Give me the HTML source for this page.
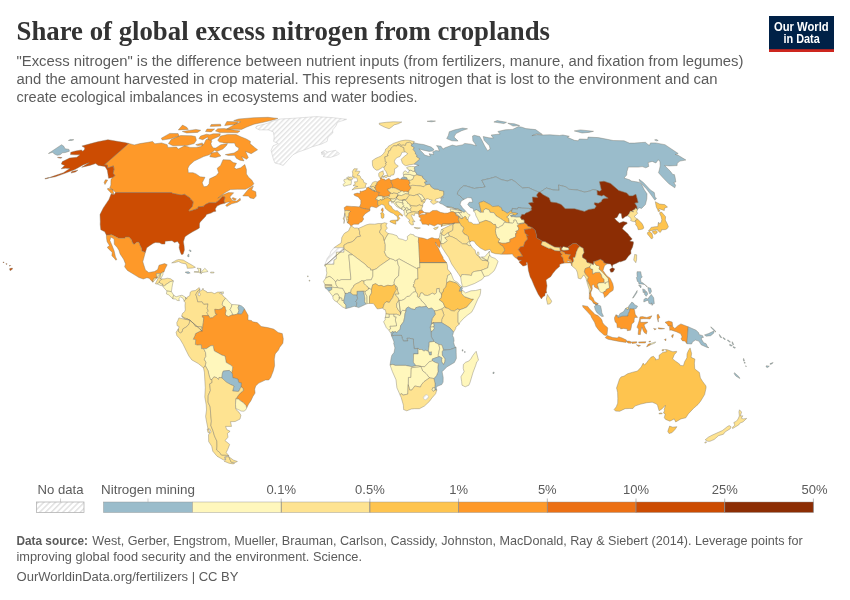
<!DOCTYPE html>
<html lang="en"><head><meta charset="utf-8"><title>Share of global excess nitrogen from croplands</title>
<style>
html,body{margin:0;padding:0;background:#fff;}
body{width:850px;height:600px;overflow:hidden;font-family:"Liberation Sans", sans-serif;}
svg{display:block;}
.title{font-family:"Liberation Serif", serif;font-weight:bold;font-size:28px;fill:#333;}
.sub{font-family:"Liberation Sans", sans-serif;font-size:14px;fill:#5b5b5b;}
.lg{font-family:"Liberation Sans", sans-serif;font-size:13px;fill:#5b5b5b;}
.ft{font-family:"Liberation Sans", sans-serif;font-size:13px;fill:#5b5b5b;}
.logo{font-family:"Liberation Sans", sans-serif;font-weight:bold;font-size:12.3px;fill:#fff;}
</style></head><body>
<svg width="850" height="600" viewBox="0 0 850 600">
<defs>
<pattern id="hatch" patternUnits="userSpaceOnUse" width="3.6" height="3.6" patternTransform="rotate(-45)"><rect width="3.6" height="3.6" fill="#fff"/><rect width="3.6" height="1.4" fill="#e3e3e3"/></pattern>
<pattern id="hatch2" patternUnits="userSpaceOnUse" width="4.1" height="4.1" patternTransform="rotate(-45)"><rect width="4.1" height="4.1" fill="#fff"/><rect width="4.1" height="1.5" fill="#e2e2e2"/></pattern>
<clipPath id="mapclip"><rect x="0" y="110" width="850" height="365"/></clipPath>
</defs>
<rect width="850" height="600" fill="#fff"/>
<text x="16.5" y="40" class="title" textLength="533.5" lengthAdjust="spacingAndGlyphs">Share of global excess nitrogen from croplands</text>
<text x="16.5" y="66.1" class="sub" textLength="727" lengthAdjust="spacingAndGlyphs">"Excess nitrogen" is the difference between nutrient inputs (from fertilizers, manure, and fixation from legumes)</text>
<text x="16.5" y="84.3" class="sub" textLength="701" lengthAdjust="spacingAndGlyphs">and the amount harvested in crop material. This represents nitrogen that is lost to the environment and can</text>
<text x="16.5" y="101.9" class="sub" textLength="401" lengthAdjust="spacingAndGlyphs">create ecological imbalances in ecosystems and water bodies.</text>
<g id="logo"><rect x="769" y="16" width="65" height="36" fill="#002147"/><rect x="769" y="49.2" width="65" height="2.8" fill="#ce261e"/>
<text x="801.3" y="30.6" text-anchor="middle" class="logo" textLength="54.7" lengthAdjust="spacingAndGlyphs">Our World</text>
<text x="801.6" y="42.6" text-anchor="middle" class="logo" textLength="36.3" lengthAdjust="spacingAndGlyphs">in Data</text></g>
<g id="map" clip-path="url(#mapclip)">
<path id="CAN" d="M112.9,177.6L115.0,175.3L113.0,173.6L114.0,169.3L113.4,165.9L107.6,168.1L107.5,165.2L104.5,164.7L128.7,143.4L134.3,144.9L140.0,143.6L148.2,142.3L152.6,141.4L154.8,143.8L161.6,142.9L167.2,144.7L167.9,147.4L176.6,147.1L178.2,149.1L184.7,145.8L190.0,147.4L196.0,147.4L201.0,146.5L204.2,143.6L206.0,139.7L210.6,138.2L211.8,141.4L210.9,143.6L211.6,145.8L213.3,148.0L215.9,148.0L220.9,144.7L227.5,143.6L226.3,145.8L222.8,149.1L216.9,151.4L214.6,150.3L209.3,154.8L203.7,156.5L201.6,157.6L194.1,161.1L189.3,165.4L187.9,168.3L188.3,172.7L193.0,172.7L196.1,173.9L200.1,176.8L205.0,177.3L202.2,182.8L203.8,186.8L207.0,186.3L209.1,183.8L209.6,178.8L216.0,175.8L218.6,172.7L217.2,168.3L220.6,165.4L223.0,159.7L230.1,160.0L233.2,162.6L236.5,163.3L234.2,167.8L236.4,169.0L240.7,167.8L244.8,164.5L246.4,169.5L246.4,173.9L248.8,177.6L251.7,180.0L253.9,183.8L251.5,186.3L245.5,189.3L237.5,189.3L230.5,189.5L225.3,192.6L221.2,195.6L217.8,198.2L222.4,195.1L228.4,192.6L233.7,192.8L231.5,195.1L229.8,197.1L230.9,198.2L231.9,200.2L233.8,200.7L236.8,201.0L240.1,198.2L240.5,200.2L237.4,202.3L231.8,203.8L226.8,206.6L225.7,205.3L230.4,201.7L227.1,202.3L224.7,203.3L224.8,202.5L223.8,201.0L225.0,197.4L224.4,196.9L222.5,196.6L218.9,200.5L215.6,202.8L209.0,202.8L204.9,204.8L203.3,206.4L198.1,206.9L198.0,208.4L189.6,211.3L188.7,210.2L192.3,206.4L193.2,202.0L191.9,200.2L190.3,198.9L190.0,197.9L184.4,194.3L181.6,195.1L177.1,194.3L172.4,193.3L171.6,192.6L115.6,192.6L113.2,190.0L109.7,188.0L110.9,185.0L110.9,182.5L111.0,179.3L112.9,177.6ZM107.7,188.3L112.8,189.5L113.8,194.1L111.3,193.6L110.0,191.8L107.6,189.5ZM105.4,179.8L107.7,180.0L105.0,184.5L104.1,182.5ZM242.8,195.9L248.7,188.8L253.4,186.0L251.7,190.0L255.8,191.8L256.2,196.1L253.9,198.7L250.0,197.9L248.5,196.1ZM257.6,149.8L254.6,147.4L250.0,143.6L250.5,141.4L246.4,139.0L240.2,136.5L236.1,134.6L227.6,134.4L220.6,136.1L217.7,140.3L219.5,142.1L222.5,142.5L223.8,142.9L230.3,143.1L234.5,143.1L235.8,146.2L238.9,148.0L238.4,150.3L234.1,153.0L225.3,154.6L228.2,155.5L234.5,155.3L236.4,158.3L239.9,160.2L244.0,160.9L241.7,156.7L246.6,159.3L248.3,157.6L245.5,151.4L251.2,153.7ZM277.9,118.4L268.0,117.3L253.9,117.7L238.6,119.0L233.7,120.6L240.7,121.8L235.1,124.2L226.7,129.0L241.5,129.4L246.8,127.0L254.0,124.2L263.1,122.3L273.9,119.8ZM217.8,128.8L224.1,128.6L240.1,130.9L237.7,132.8L219.9,132.6L215.4,130.9ZM171.4,139.3L180.6,135.5L191.5,135.7L195.4,136.5L196.4,140.3L194.2,143.6L186.5,145.6L172.9,145.8L168.4,143.6ZM161.3,138.2L169.8,133.4L178.1,133.6L179.1,136.1L170.3,138.8L162.3,140.1ZM182.3,131.5L195.9,129.4L200.7,130.3L197.6,132.4L186.7,133.0ZM226.9,121.5L237.9,121.8L236.5,124.2L224.7,125.5ZM211.4,153.0L217.4,151.9L220.9,156.0L215.4,157.6L209.8,156.7ZM207.0,129.0L214.6,129.0L211.2,131.9L205.5,131.5ZM195.7,144.7L202.3,142.9L202.9,145.1L197.5,145.6ZM232.7,197.6L236.4,198.9L235.0,200.2L232.3,198.9ZM182.5,125.1L186.7,127.2L188.3,129.4L178.3,129.9ZM211.2,124.5L220.5,124.2L221.0,126.1L210.2,126.4Z" fill="#fe9929" stroke="#7a7466" stroke-width="0.4" stroke-linejoin="round" fill-rule="evenodd"/>
<path id="CAN2" d="M200.6,136.1L206.5,134.2L209.8,134.8L213.2,133.8L220.3,133.8L219.8,136.1L214.7,138.2L210.3,140.3L208.0,139.3L207.8,136.9L202.7,139.7L198.9,138.6Z" fill="#fe9929" stroke="#7a7466" stroke-width="0.4" stroke-linejoin="round" fill-rule="evenodd"/>
<path id="USA" d="M115.6,192.6L171.6,192.6L172.4,193.3L177.1,194.3L181.6,195.1L184.4,194.3L190.0,197.9L190.3,198.9L191.9,200.2L193.2,202.0L192.3,206.4L188.7,210.2L189.6,211.3L198.0,208.4L198.1,206.9L203.3,206.4L204.9,204.8L209.0,202.8L215.6,202.8L218.9,200.5L222.5,196.6L224.4,196.9L225.0,197.4L223.8,201.0L224.8,202.5L224.7,203.3L220.7,204.3L217.1,206.1L215.2,208.9L215.9,211.3L213.4,211.8L211.1,213.1L206.5,214.4L205.7,216.2L202.6,219.6L200.1,222.2L199.5,223.7L199.4,227.9L196.9,229.5L193.1,231.5L188.2,234.4L185.0,236.8L183.4,241.7L184.1,245.9L184.4,250.1L183.1,254.2L181.4,254.5L180.3,251.9L179.1,247.7L179.5,244.3L177.5,241.5L174.4,242.5L172.1,240.7L168.8,240.9L165.2,241.2L164.9,244.1L161.8,244.1L159.5,242.8L155.5,242.5L153.4,243.3L150.0,245.4L146.8,247.7L145.3,252.4L141.8,251.1L141.5,248.2L140.1,245.6L138.8,242.2L136.6,242.2L134.5,244.3L132.7,243.5L131.6,240.1L129.0,237.0L125.3,237.0L124.9,238.3L118.7,238.3L111.8,234.7L106.4,235.2L104.8,231.8L100.8,229.7L100.2,224.5L100.3,221.4L100.0,214.6L103.3,207.9L109.0,199.4L111.1,194.1L114.2,194.6ZM128.7,143.4L104.5,164.7L107.5,165.2L107.6,168.1L113.4,165.9L114.0,169.3L113.0,173.6L115.0,175.3L112.9,177.6L108.6,178.3L108.0,174.6L107.3,170.2L105.0,166.4L98.2,165.4L95.7,163.5L89.9,165.4L87.6,165.9L81.7,167.3L89.4,162.6L83.1,164.9L74.9,169.5L64.2,173.6L55.2,176.8L48.1,178.0L55.8,175.3L63.4,172.7L69.8,168.5L65.4,168.3L61.1,168.8L64.7,165.4L61.3,164.0L62.4,161.6L67.1,159.3L69.5,158.1L76.9,157.2L79.9,154.8L75.5,154.8L70.5,154.6L70.8,152.3L75.4,151.0L81.3,150.0L82.9,151.2L84.8,149.1L84.4,147.6L81.9,146.0L90.9,143.6L97.6,141.8L107.9,139.7L112.6,140.5L118.5,141.6L124.8,142.5ZM45.0,178.5L48.4,177.6L48.2,178.3L44.9,179.0ZM71.9,171.4L77.9,170.2L75.5,171.9L71.0,173.1ZM57.7,157.2L62.1,157.6L60.3,158.3L57.6,157.6ZM9.7,268.6L12.3,268.1L12.5,269.1L10.1,270.7L9.7,269.6ZM9.1,265.5L10.7,265.5L10.0,266.2ZM5.9,263.6L7.2,263.9L6.2,264.4ZM2.9,262.1L4.1,262.1L3.6,262.9Z" fill="#cc4c02" stroke="#7a7466" stroke-width="0.4" stroke-linejoin="round" fill-rule="evenodd"/>
<path id="GRL" d="M256.6,126.1L267.9,123.2L271.0,121.5L280.1,119.0L294.6,118.2L316.1,116.6L333.2,117.7L346.6,119.3L337.5,122.3L335.9,126.1L332.7,129.9L332.8,133.0L328.0,137.1L327.1,141.4L321.6,144.0L312.5,146.7L306.7,149.1L298.1,152.1L292.9,154.8L287.5,160.7L283.2,165.4L279.1,164.0L274.9,163.0L273.5,159.5L272.4,155.5L271.1,150.3L273.1,145.8L278.3,143.6L273.6,141.4L274.2,137.1L273.3,131.9L268.5,129.9L259.3,129.9L255.6,128.0Z" fill="url(#hatch)" stroke="#b9b9b9" stroke-width="0.4" stroke-linejoin="round" fill-rule="evenodd"/>
<path id="MEX" d="M106.4,235.2L111.8,234.7L118.7,238.3L124.9,238.3L125.3,237.0L129.0,237.0L131.6,240.1L132.7,243.5L134.5,244.3L136.6,242.2L138.8,242.2L140.1,245.6L141.5,248.2L141.8,251.1L145.3,252.4L142.8,261.8L145.4,269.9L148.7,272.5L154.5,271.5L157.7,269.6L159.0,265.2L164.6,263.6L167.2,264.7L165.0,269.1L163.9,272.2L162.9,271.7L161.5,273.3L160.7,273.6L156.5,273.6L156.3,275.0L157.3,278.0L154.4,278.1L153.0,280.1L152.8,282.2L149.1,278.2L146.9,277.7L143.3,279.0L138.9,277.5L135.8,275.6L131.6,273.0L127.4,270.4L124.6,266.8L125.5,263.9L123.6,259.2L120.1,254.0L118.9,250.3L117.2,247.5L114.3,244.3L114.1,239.1L110.8,237.0L109.9,240.4L112.1,245.6L114.1,250.8L115.5,256.9L116.8,259.5L115.8,260.2L114.7,258.7L111.9,255.8L112.2,252.2L108.6,249.0L107.3,247.2L109.5,245.6L107.1,241.7L106.4,237.5Z" fill="#fe9929" stroke="#7a7466" stroke-width="0.4" stroke-linejoin="round" fill-rule="evenodd"/>
<path id="GTM" d="M152.8,282.2L153.0,280.1L154.4,278.1L157.3,278.0L156.3,275.0L156.5,273.6L160.7,273.6L155.3,283.7L157.4,284.1L159.1,282.4L159.7,280.9L162.2,279.0L160.7,278.5L160.0,278.5L160.7,273.6Z" fill="#fee391" stroke="#7a7466" stroke-width="0.4" stroke-linejoin="round" fill-rule="evenodd"/>
<path id="BLZ" d="M162.9,271.7L161.5,273.3L160.7,273.6L160.0,278.5L160.7,278.5L161.5,277.5L163.0,274.3Z" fill="#fff7bc" stroke="#7a7466" stroke-width="0.4" stroke-linejoin="round" fill-rule="evenodd"/>
<path id="SLV" d="M157.4,284.1L160.9,285.6L162.5,285.6L162.5,285.0L162.9,284.0L161.1,283.7L160.0,282.7L159.1,282.4Z" fill="#fff7bc" stroke="#7a7466" stroke-width="0.4" stroke-linejoin="round" fill-rule="evenodd"/>
<path id="HND" d="M162.2,279.0L159.7,280.9L159.1,282.4L160.0,282.7L161.1,283.7L162.9,284.0L162.5,285.0L163.4,286.1L164.3,286.1L165.0,285.3L167.2,283.7L170.4,281.6L173.4,280.9L170.7,278.8L167.3,278.2L165.0,278.8Z" fill="#fee391" stroke="#7a7466" stroke-width="0.4" stroke-linejoin="round" fill-rule="evenodd"/>
<path id="NIC" d="M173.4,280.9L170.4,281.6L167.2,283.7L165.0,285.3L164.3,286.1L163.4,286.1L162.7,286.3L165.2,289.2L166.9,291.0L169.1,291.3L171.4,291.6L172.0,287.4L172.7,283.5Z" fill="#fff7bc" stroke="#7a7466" stroke-width="0.4" stroke-linejoin="round" fill-rule="evenodd"/>
<path id="CRI" d="M171.4,291.6L169.1,291.3L166.9,291.0L166.4,293.9L168.7,294.9L171.3,297.3L172.8,298.9L173.2,296.8L173.7,295.2Z" fill="#fff7bc" stroke="#7a7466" stroke-width="0.4" stroke-linejoin="round" fill-rule="evenodd"/>
<path id="PAN" d="M173.7,295.2L173.2,296.8L172.8,298.9L175.6,299.1L177.1,300.4L179.4,300.7L178.8,298.6L180.7,296.8L183.2,298.6L184.2,301.2L185.7,299.1L185.5,297.3L182.0,295.2L179.6,295.7L176.1,296.8Z" fill="#fff7bc" stroke="#7a7466" stroke-width="0.4" stroke-linejoin="round" fill-rule="evenodd"/>
<path id="CUB" d="M171.7,262.9L176.4,260.2L178.7,259.5L183.2,260.0L188.4,263.1L192.2,265.2L195.4,267.3L192.3,268.1L187.3,268.3L186.9,266.0L186.0,263.9L181.6,263.1L178.5,261.5L174.9,262.6Z" fill="#fee391" stroke="#7a7466" stroke-width="0.4" stroke-linejoin="round" fill-rule="evenodd"/>
<path id="HTI" d="M200.4,273.0L200.7,268.6L197.1,268.1L198.3,269.6L199.0,271.5L194.4,271.5L194.1,272.2L198.6,272.5Z" fill="#fff7bc" stroke="#7a7466" stroke-width="0.4" stroke-linejoin="round" fill-rule="evenodd"/>
<path id="DOM" d="M200.7,268.6L200.4,273.0L204.8,268.3L208.1,271.5L205.5,272.0L202.0,272.5L201.0,274.1Z" fill="#fff7bc" stroke="#7a7466" stroke-width="0.4" stroke-linejoin="round" fill-rule="evenodd"/>
<path id="JAM" d="M185.3,272.0L188.5,271.7L190.2,273.0L187.9,273.6L185.5,272.5Z" fill="#9abccb" stroke="#7a7466" stroke-width="0.4" stroke-linejoin="round" fill-rule="evenodd"/>
<path id="PRI" d="M210.7,272.0L214.1,272.2L213.8,273.0L210.6,273.0Z" fill="#fff7bc" stroke="#7a7466" stroke-width="0.4" stroke-linejoin="round" fill-rule="evenodd"/>
<path id="BHS" d="M188.0,254.5L188.9,254.2L189.0,256.9L187.5,256.3ZM189.6,249.8L191.2,250.8L190.6,251.9L189.3,250.6Z" fill="#9abccb" stroke="#7a7466" stroke-width="0.4" stroke-linejoin="round" fill-rule="evenodd"/>
<path id="TTO" d="M221.6,292.1L223.4,291.8L223.4,293.6L221.5,293.6Z" fill="#fff7bc" stroke="#7a7466" stroke-width="0.4" stroke-linejoin="round" fill-rule="evenodd"/>
<path id="COL" d="M184.2,301.2L185.7,299.1L185.5,297.3L186.8,299.1L186.7,297.6L189.8,295.5L190.2,292.3L191.8,291.0L195.3,290.5L199.2,287.6L200.0,289.2L197.8,291.0L195.8,294.4L197.0,298.1L197.7,301.7L202.1,301.7L203.6,304.1L208.0,303.8L207.2,308.3L208.3,311.1L206.9,312.7L209.1,316.9L208.7,315.6L202.4,315.6L202.4,317.1L203.8,317.4L203.3,322.6L202.2,331.0L200.5,329.9L202.0,327.0L195.3,326.3L193.4,323.4L190.0,320.3L187.4,319.0L184.9,319.0L181.7,316.3L182.4,313.5L184.8,311.4L185.3,309.6L185.0,305.6L185.3,302.8L184.2,301.2Z" fill="#fee391" stroke="#7a7466" stroke-width="0.4" stroke-linejoin="round" fill-rule="evenodd"/>
<path id="VEN" d="M209.1,316.9L206.9,312.7L208.3,311.1L207.2,308.3L208.0,303.8L203.6,304.1L202.1,301.7L197.7,301.7L197.0,298.1L195.8,294.4L197.8,291.0L200.0,289.2L199.2,291.6L202.5,289.7L203.0,288.2L203.4,290.0L206.7,291.6L206.9,292.6L211.5,292.3L214.4,293.6L217.7,292.1L221.4,292.1L219.5,293.4L222.2,294.4L223.5,296.5L225.7,298.1L223.8,300.4L222.6,302.5L222.3,304.6L223.6,306.4L221.7,308.8L218.7,309.6L214.8,309.3L215.4,313.5L217.2,314.3L215.8,315.0L212.6,317.7L210.5,318.0L209.1,316.9ZM199.1,292.1L200.3,294.2L199.6,296.0L198.1,295.2L198.4,293.1Z" fill="#fee391" stroke="#7a7466" stroke-width="0.4" stroke-linejoin="round" fill-rule="evenodd"/>
<path id="GUY" d="M223.6,306.4L222.3,304.6L222.6,302.5L223.8,300.4L225.7,298.1L228.8,301.7L231.9,304.6L231.4,307.0L230.0,309.6L231.3,311.4L233.1,315.0L231.9,315.0L228.5,316.6L225.7,315.3L225.3,313.7L226.0,310.6L225.2,308.3L225.0,306.7L223.6,306.4Z" fill="#fff7bc" stroke="#7a7466" stroke-width="0.4" stroke-linejoin="round" fill-rule="evenodd"/>
<path id="SUR" d="M233.1,315.0L231.3,311.4L230.0,309.6L231.4,307.0L231.9,304.6L234.7,304.6L239.0,305.0L238.1,307.7L238.9,310.6L237.7,314.0L234.5,314.8L233.1,315.0Z" fill="#fff7bc" stroke="#7a7466" stroke-width="0.4" stroke-linejoin="round" fill-rule="evenodd"/>
<path id="GUF" d="M237.7,314.0L238.9,310.6L238.1,307.7L239.0,305.0L241.6,305.9L244.0,308.0L244.5,309.0L242.3,313.2L241.4,314.3L237.7,314.0Z" fill="#9abccb" stroke="#7a7466" stroke-width="0.4" stroke-linejoin="round" fill-rule="evenodd"/>
<path id="BRA" d="M237.7,314.0L241.4,314.3L242.3,313.2L244.5,309.0L248.1,315.3L248.0,320.0L251.5,320.5L252.7,321.8L257.3,322.6L261.2,326.5L267.7,327.6L273.5,329.1L274.6,329.7L278.1,332.5L282.3,333.6L283.3,338.8L282.9,343.2L279.6,347.4L278.5,350.0L275.2,353.9L274.3,359.1L274.6,365.7L273.3,370.9L271.8,374.8L270.8,377.4L268.7,380.0L265.4,380.0L262.1,381.6L258.8,383.1L255.7,386.0L254.7,389.2L255.1,393.1L252.9,396.5L250.8,400.9L248.6,404.0L246.7,407.9L246.0,405.6L243.4,402.7L240.2,400.6L238.4,399.1L235.9,398.8L238.9,394.6L240.8,392.5L243.3,390.7L243.2,388.4L241.0,386.8L241.3,382.9L238.8,382.6L237.8,379.0L232.7,377.7L232.4,374.0L231.6,372.7L232.4,369.6L232.7,367.0L230.7,365.1L226.2,362.5L225.0,356.0L222.0,355.2L218.0,352.9L214.4,351.1L213.6,348.4L213.2,345.6L210.7,345.8L206.3,348.7L203.7,348.6L201.5,348.7L201.2,344.8L197.4,345.1L195.3,344.5L195.7,339.6L193.2,339.3L194.9,335.7L195.5,333.6L200.3,331.0L202.2,331.0L203.3,322.6L203.8,317.4L202.4,317.1L202.4,315.6L208.7,315.6L209.1,316.9L210.5,318.0L212.6,317.7L215.8,315.0L217.2,314.3L215.4,313.5L214.8,309.3L218.7,309.6L221.7,308.8L223.6,306.4L225.0,306.7L225.2,308.3L226.0,310.6L225.3,313.7L225.7,315.3L228.5,316.6L231.9,315.0L233.1,315.0L234.5,314.8L237.7,314.0Z" fill="#fe9929" stroke="#7a7466" stroke-width="0.4" stroke-linejoin="round" fill-rule="evenodd"/>
<path id="ECU" d="M181.7,316.3L184.9,319.0L187.4,319.0L190.0,320.3L178.9,317.9L177.7,321.0L176.8,322.6L177.1,325.7L179.0,326.5L179.2,326.8L178.3,328.9L178.4,331.5L180.3,333.0L182.1,332.0L182.9,328.9L186.6,326.8L189.1,323.9L190.0,320.3Z" fill="#fee391" stroke="#7a7466" stroke-width="0.4" stroke-linejoin="round" fill-rule="evenodd"/>
<path id="PER" d="M190.0,320.3L189.1,323.9L186.6,326.8L182.9,328.9L182.1,332.0L180.3,333.0L178.4,331.5L178.3,328.9L176.1,332.3L176.9,335.7L179.8,338.8L183.1,344.3L186.5,351.3L188.9,356.0L191.8,359.9L198.3,363.6L201.2,365.9L203.5,367.9L205.3,365.7L206.1,362.5L204.2,359.1L205.9,356.5L205.6,352.6L203.7,348.6L201.5,348.7L201.2,344.8L197.4,345.1L195.3,344.5L195.7,339.6L193.2,339.3L194.9,335.7L195.5,333.6L200.3,331.0L202.2,331.0L190.0,320.3L193.4,323.4L195.3,326.3L202.0,327.0L200.5,329.9L202.2,331.0Z" fill="#fee391" stroke="#7a7466" stroke-width="0.4" stroke-linejoin="round" fill-rule="evenodd"/>
<path id="BOL" d="M203.7,348.6L205.6,352.6L205.9,356.5L204.2,359.1L206.1,362.5L205.3,365.7L208.1,370.9L208.9,374.8L210.4,379.5L211.9,379.5L213.9,376.9L216.7,377.7L218.5,379.5L219.1,377.4L221.9,377.9L222.4,373.5L223.3,371.1L229.3,370.4L231.6,372.7L232.4,369.6L232.7,367.0L230.7,365.1L226.2,362.5L225.0,356.0L222.0,355.2L218.0,352.9L214.4,351.1L213.6,348.4L213.2,345.6L210.7,345.8L206.3,348.7L203.7,348.6Z" fill="#fff7bc" stroke="#7a7466" stroke-width="0.4" stroke-linejoin="round" fill-rule="evenodd"/>
<path id="PRY" d="M231.6,372.7L229.3,370.4L223.3,371.1L222.4,373.5L221.9,377.9L226.2,382.1L230.9,384.7L234.0,386.0L232.6,391.0L237.8,391.5L238.9,391.2L241.0,386.8L241.3,382.9L238.8,382.6L237.8,379.0L232.7,377.7L232.4,374.0L231.6,372.7Z" fill="#9abccb" stroke="#7a7466" stroke-width="0.4" stroke-linejoin="round" fill-rule="evenodd"/>
<path id="CHL" d="M205.3,365.7L203.5,367.9L204.4,372.2L204.9,381.3L205.3,387.8L204.8,397.0L206.2,404.8L206.5,410.0L205.6,416.5L206.8,423.0L208.0,429.0L209.7,429.0L211.1,432.1L208.5,434.7L208.7,441.6L211.7,446.2L212.8,451.2L217.0,456.2L223.6,460.0L225.3,459.5L224.4,457.0L228.8,455.7L226.4,455.2L221.4,455.0L219.7,452.5L216.7,450.0L217.0,446.2L216.9,441.1L214.5,436.0L213.0,430.8L210.9,425.6L211.4,421.2L210.7,413.9L210.2,406.9L208.1,402.2L208.2,395.7L210.4,390.5L209.7,383.9L212.1,382.6L211.9,379.5L210.4,379.5L208.9,374.8L208.1,370.9L205.3,365.7ZM228.7,456.5L225.5,457.2L225.7,460.0L224.1,461.2L228.9,463.2L233.1,463.9L234.7,463.2L231.2,462.2ZM207.2,429.0L208.7,429.3L209.8,433.1L208.0,432.6Z" fill="#fee391" stroke="#7a7466" stroke-width="0.4" stroke-linejoin="round" fill-rule="evenodd"/>
<path id="ARG" d="M221.9,377.9L219.1,377.4L218.5,379.5L216.7,377.7L213.9,376.9L211.9,379.5L212.1,382.6L209.7,383.9L210.4,390.5L208.2,395.7L208.1,402.2L210.2,406.9L210.7,413.9L211.4,421.2L210.9,425.6L213.0,430.8L214.5,436.0L216.9,441.1L217.0,446.2L216.7,450.0L219.7,452.5L221.4,455.0L226.4,455.2L228.8,455.7L226.2,452.5L227.7,449.5L229.7,444.4L225.0,440.6L228.0,437.2L227.4,433.4L230.1,431.3L226.7,429.5L225.6,426.4L231.5,426.4L230.5,421.7L235.2,421.5L240.0,419.1L240.9,415.2L238.9,412.1L236.0,409.5L235.8,408.5L235.5,404.3L235.9,398.8L238.9,394.6L240.8,392.5L243.3,390.7L243.2,388.4L241.0,386.8L238.9,391.2L237.8,391.5L232.6,391.0L234.0,386.0L230.9,384.7L226.2,382.1L221.9,377.9ZM228.7,456.5L231.2,462.2L235.3,462.4L237.4,461.5L233.3,460.0L229.9,457.5Z" fill="#fee391" stroke="#7a7466" stroke-width="0.4" stroke-linejoin="round" fill-rule="evenodd"/>
<path id="URY" d="M235.9,398.8L235.5,404.3L235.8,408.5L239.2,410.0L241.1,411.1L244.0,411.2L246.1,409.5L246.7,407.9L246.0,405.6L243.4,402.7L240.2,400.6L238.4,399.1L235.9,398.8Z" fill="#fff7bc" stroke="#7a7466" stroke-width="0.4" stroke-linejoin="round" fill-rule="evenodd"/>
<path id="ISL" d="M321.0,152.5L324.5,150.5L327.7,152.1L332.2,151.0L335.7,150.3L337.9,152.5L339.5,153.7L336.8,155.3L330.4,157.4L326.8,157.2L323.0,156.5L324.5,155.1L321.2,153.9L324.9,153.0Z" fill="url(#hatch)" stroke="#b9b9b9" stroke-width="0.4" stroke-linejoin="round" fill-rule="evenodd"/>
<path id="IRL" d="M351.1,179.8L351.4,181.8L351.1,184.5L348.5,185.0L343.9,186.3L343.0,184.8L345.1,182.3L343.8,181.0L344.1,179.5L347.1,178.8L346.7,177.6L349.1,176.7L349.5,177.3L348.6,178.3L347.6,178.8L348.8,179.8L351.1,179.8Z" fill="#fff7bc" stroke="#7a7466" stroke-width="0.4" stroke-linejoin="round" fill-rule="evenodd"/>
<path id="GBR" d="M349.5,177.3L348.6,178.3L347.6,178.8L348.8,179.8L351.1,179.8L352.5,179.3L352.7,178.3L351.4,176.9ZM351.9,189.9L354.9,189.0L356.3,188.8L359.5,188.5L363.9,188.1L366.1,187.1L365.1,186.3L366.6,183.5L363.9,182.5L363.5,181.0L363.1,179.8L361.0,178.5L360.2,176.3L359.3,175.3L357.0,175.1L358.4,174.1L359.9,171.4L356.7,171.0L355.4,171.4L357.5,168.8L354.0,168.8L352.4,171.4L352.8,173.9L352.4,176.8L354.1,176.3L353.5,178.0L356.6,177.8L357.5,180.0L357.2,181.8L354.5,181.8L354.9,183.3L355.2,184.3L353.0,185.5L356.4,186.3L357.8,186.5L355.0,187.0Z" fill="#fee391" stroke="#7a7466" stroke-width="0.4" stroke-linejoin="round" fill-rule="evenodd"/>
<path id="FRA" d="M359.5,206.9L361.8,208.2L364.8,208.7L366.4,209.2L370.0,209.5L369.8,207.7L371.6,206.6L373.7,207.0L376.3,207.8L378.9,206.0L377.8,204.8L377.6,202.8L377.8,200.5L377.2,199.2L375.8,199.7L375.8,198.9L377.5,196.6L378.7,196.1L378.7,194.3L379.8,192.6L376.1,191.4L374.9,191.2L373.1,190.5L371.7,190.0L371.5,189.3L369.7,188.3L368.4,187.3L366.5,187.8L366.5,189.5L363.7,190.8L361.1,191.5L360.1,190.9L360.1,193.5L357.2,193.1L353.8,194.1L354.6,195.6L358.2,196.9L359.2,198.2L360.8,200.2L360.8,203.8ZM382.9,207.9L383.3,210.5L382.7,212.0L381.4,210.7L381.5,208.9Z" fill="#fe9929" stroke="#7a7466" stroke-width="0.4" stroke-linejoin="round" fill-rule="evenodd"/>
<path id="ESP" d="M370.0,209.5L366.4,209.2L364.8,208.7L361.8,208.2L359.5,206.9L355.4,206.6L351.2,206.4L346.6,206.0L344.1,207.7L344.8,210.7L346.1,210.5L349.4,210.7L350.2,211.5L348.7,213.1L348.7,215.1L348.4,216.4L347.3,216.7L348.4,218.3L347.7,219.8L348.3,220.3L347.4,222.9L349.5,224.0L350.3,225.5L351.2,226.1L353.8,224.2L358.6,224.2L359.9,222.4L361.8,221.9L363.7,219.0L362.7,217.0L365.0,213.9L367.9,212.0L370.0,210.7Z" fill="#fe9929" stroke="#7a7466" stroke-width="0.4" stroke-linejoin="round" fill-rule="evenodd"/>
<path id="PRT" d="M347.4,222.9L348.3,220.3L347.7,219.8L348.4,218.3L347.3,216.7L348.4,216.4L348.7,215.1L348.7,213.1L350.2,211.5L349.4,210.7L346.1,210.5L344.8,210.7L343.9,223.5L344.4,221.1L344.5,219.8L343.0,219.0L344.1,216.7L344.9,213.3Z" fill="#fee391" stroke="#7a7466" stroke-width="0.4" stroke-linejoin="round" fill-rule="evenodd"/>
<path id="BEL" d="M368.4,187.3L369.7,188.3L371.5,189.3L371.7,190.0L373.1,190.5L374.9,191.2L369.9,186.6L371.8,186.6L373.2,186.4L374.8,187.1L374.6,188.0L375.2,188.1L375.9,189.3L375.5,189.7L374.8,190.5L374.9,191.2Z" fill="#fee391" stroke="#7a7466" stroke-width="0.4" stroke-linejoin="round" fill-rule="evenodd"/>
<path id="LUX" d="M374.9,191.2L374.8,190.5L375.5,189.7L376.3,190.5L376.1,191.4L374.9,191.2Z" fill="#fee391" stroke="#7a7466" stroke-width="0.4" stroke-linejoin="round" fill-rule="evenodd"/>
<path id="NLD" d="M375.2,188.1L374.6,188.0L374.8,187.1L373.2,186.4L371.8,186.6L369.9,186.6L371.2,185.0L372.6,182.6L373.8,181.9L375.4,181.4L377.4,181.9L377.1,183.5L376.5,183.8L377.1,184.5L375.3,185.4L375.6,186.5L375.2,187.5L375.2,188.1Z" fill="#fee391" stroke="#7a7466" stroke-width="0.4" stroke-linejoin="round" fill-rule="evenodd"/>
<path id="DEU" d="M375.2,188.1L375.2,187.5L375.6,186.5L375.3,185.4L377.1,184.5L376.5,183.8L377.1,183.5L377.4,181.9L378.9,180.8L380.0,180.3L380.6,179.8L380.0,177.8L381.5,178.0L382.6,179.0L384.6,179.0L384.5,180.2L386.8,179.7L387.5,178.9L389.2,178.4L390.1,179.8L390.9,180.3L391.4,181.8L391.0,182.9L392.1,183.6L392.4,184.9L393.0,187.5L392.7,187.9L391.7,187.5L389.0,189.0L387.5,189.3L388.4,190.8L391.1,193.1L391.2,193.2L389.2,194.8L389.7,196.4L388.1,196.1L385.7,196.6L384.1,196.9L382.8,196.4L380.8,195.9L378.7,196.1L378.7,194.3L379.8,192.6L376.1,191.4L376.3,190.5L375.5,189.7L375.9,189.3L375.2,188.1Z" fill="#fe9929" stroke="#7a7466" stroke-width="0.4" stroke-linejoin="round" fill-rule="evenodd"/>
<path id="CHE" d="M378.7,196.1L380.8,195.9L382.8,196.4L382.7,197.5L384.7,198.0L384.0,199.6L382.3,198.9L381.8,200.6L380.5,199.1L379.4,200.5L377.8,200.5L377.2,199.2L375.8,199.7L375.8,198.9L377.5,196.6L378.7,196.1Z" fill="#fff7bc" stroke="#7a7466" stroke-width="0.4" stroke-linejoin="round" fill-rule="evenodd"/>
<path id="AUT" d="M382.8,196.4L384.1,196.9L385.7,196.6L388.1,196.1L389.7,196.4L389.2,194.8L391.2,193.2L393.0,193.6L393.5,192.6L395.6,193.2L397.5,193.6L398.1,195.1L398.0,195.9L396.9,196.6L396.2,198.0L395.3,198.4L393.2,199.2L391.3,198.9L388.7,198.4L388.2,197.5L385.8,198.2L384.7,198.0L382.7,197.5L382.8,196.4Z" fill="#fee391" stroke="#7a7466" stroke-width="0.4" stroke-linejoin="round" fill-rule="evenodd"/>
<path id="DNK" d="M380.0,177.8L381.5,178.0L381.9,176.3L382.8,175.1L384.0,174.1L383.1,172.2L383.2,170.8L379.6,172.4L378.7,173.6L378.8,176.2ZM384.3,175.8L387.3,175.1L387.5,176.6L386.4,177.8L384.6,177.1ZM382.1,176.3L383.8,176.1L384.1,177.3L382.5,177.3Z" fill="#fee391" stroke="#7a7466" stroke-width="0.4" stroke-linejoin="round" fill-rule="evenodd"/>
<path id="ITA" d="M377.8,200.5L377.6,202.8L377.8,204.8L378.9,206.0L381.8,204.3L384.5,205.6L385.3,208.2L386.6,209.5L389.0,211.3L390.7,212.4L393.6,213.6L395.1,215.1L396.7,215.7L397.7,218.3L396.9,220.9L397.8,221.0L398.6,219.8L399.9,218.3L398.4,216.4L399.7,214.4L402.3,216.2L402.6,215.1L401.2,213.9L397.4,210.7L395.3,210.7L392.6,208.7L391.4,206.4L389.0,204.8L388.7,202.3L388.8,201.6L390.3,201.1L391.6,201.2L391.2,200.2L390.8,199.4L391.3,198.9L388.7,198.4L388.2,197.5L385.8,198.2L384.7,198.0L384.0,199.6L382.3,198.9L381.8,200.6L380.5,199.1L379.4,200.5L377.8,200.5ZM389.9,221.1L391.8,220.3L396.7,220.1L395.8,222.2L395.9,224.2L394.1,223.7L390.2,221.9ZM380.6,213.1L382.7,212.3L384.1,214.4L383.8,217.7L382.3,218.5L381.2,217.7L381.1,214.9Z" fill="#fec44f" stroke="#7a7466" stroke-width="0.4" stroke-linejoin="round" fill-rule="evenodd"/>
<path id="POL" d="M392.7,187.9L393.0,187.5L392.4,184.9L392.1,183.6L391.0,182.9L391.4,181.8L390.9,180.3L394.7,179.3L398.0,178.0L399.7,179.2L401.2,178.9L407.4,179.2L408.9,180.2L410.2,183.3L408.9,184.3L410.0,186.3L411.2,188.0L410.2,189.0L408.7,191.3L408.7,192.3L405.5,191.5L403.7,192.1L402.4,191.0L401.1,191.3L399.1,190.0L397.0,189.0L395.8,188.4L393.7,187.8L392.7,187.9Z" fill="#fe9929" stroke="#7a7466" stroke-width="0.4" stroke-linejoin="round" fill-rule="evenodd"/>
<path id="RUK" d="M407.4,179.2L401.2,178.9L401.8,177.7L403.8,176.8L406.8,177.6L407.4,179.2Z" fill="#9abccb" stroke="#7a7466" stroke-width="0.4" stroke-linejoin="round" fill-rule="evenodd"/>
<path id="LTU" d="M407.4,179.2L406.8,177.6L403.8,176.8L403.5,175.0L405.1,174.1L409.9,174.4L414.2,175.8L413.4,177.8L412.9,179.3L410.7,180.3L408.9,180.2L407.4,179.2Z" fill="#fff7bc" stroke="#7a7466" stroke-width="0.4" stroke-linejoin="round" fill-rule="evenodd"/>
<path id="LVA" d="M414.2,175.8L409.9,174.4L405.1,174.1L403.5,175.0L403.1,173.1L404.0,171.4L405.8,170.8L407.2,172.4L408.7,172.7L409.0,170.6L410.7,170.1L413.2,171.3L414.8,171.3L415.8,172.2L417.1,174.7L414.2,175.8Z" fill="#fff7bc" stroke="#7a7466" stroke-width="0.4" stroke-linejoin="round" fill-rule="evenodd"/>
<path id="EST" d="M414.8,171.3L413.2,171.3L410.7,170.1L409.0,170.6L408.9,169.4L407.1,168.8L406.7,167.3L409.2,166.6L411.3,166.4L415.2,166.7L414.3,168.1L414.8,169.7L414.8,171.3Z" fill="#fff7bc" stroke="#7a7466" stroke-width="0.4" stroke-linejoin="round" fill-rule="evenodd"/>
<path id="BLR" d="M410.0,186.3L408.9,184.3L410.2,183.3L408.9,180.2L410.7,180.3L412.9,179.3L413.4,177.8L414.2,175.8L417.1,174.7L422.5,176.1L422.8,177.8L427.1,181.5L424.6,182.0L425.9,184.8L423.9,186.8L420.6,186.0L416.6,185.6L412.6,185.3L410.0,186.3Z" fill="#fee391" stroke="#7a7466" stroke-width="0.4" stroke-linejoin="round" fill-rule="evenodd"/>
<path id="UKR" d="M410.0,186.3L412.6,185.3L416.6,185.6L420.6,186.0L423.9,186.8L425.9,184.8L429.8,184.1L431.3,186.9L434.3,189.0L438.2,189.3L439.4,190.3L443.7,191.0L443.8,195.1L441.2,197.4L438.3,198.4L435.6,199.2L435.0,200.7L438.5,201.7L436.4,202.8L433.8,204.3L432.5,203.8L430.3,201.7L432.3,200.2L428.9,199.4L428.4,198.7L426.1,198.9L424.6,202.3L421.4,201.6L422.8,199.7L425.0,199.2L422.7,196.4L422.1,195.1L419.5,194.0L417.1,194.5L413.9,195.7L409.9,195.1L409.7,195.2L408.1,194.1L408.7,192.3L408.7,191.3L410.2,189.0L411.2,188.0L410.0,186.3Z" fill="#fee391" stroke="#7a7466" stroke-width="0.4" stroke-linejoin="round" fill-rule="evenodd"/>
<path id="MDA" d="M421.4,201.6L422.8,199.7L425.0,199.2L422.7,196.4L422.1,195.1L419.5,194.0L417.1,194.5L418.0,195.1L420.7,198.2L421.4,201.6Z" fill="#fff7bc" stroke="#7a7466" stroke-width="0.4" stroke-linejoin="round" fill-rule="evenodd"/>
<path id="CZE" d="M391.2,193.2L391.1,193.1L388.4,190.8L387.5,189.3L389.0,189.0L391.7,187.5L392.7,187.9L393.7,187.8L395.8,188.4L397.0,189.0L399.1,190.0L401.1,191.3L399.6,192.6L398.0,192.9L397.5,193.6L395.6,193.2L393.5,192.6L393.0,193.6L391.2,193.2Z" fill="#fee391" stroke="#7a7466" stroke-width="0.4" stroke-linejoin="round" fill-rule="evenodd"/>
<path id="SVK" d="M397.5,193.6L398.0,192.9L399.6,192.6L401.1,191.3L402.4,191.0L403.7,192.1L405.5,191.5L408.7,192.3L408.1,194.1L405.5,193.7L403.6,194.7L401.5,195.6L398.1,195.1L397.5,193.6Z" fill="#fff7bc" stroke="#7a7466" stroke-width="0.4" stroke-linejoin="round" fill-rule="evenodd"/>
<path id="HUN" d="M398.1,195.1L398.0,195.9L396.9,196.6L396.2,198.0L398.1,195.1L401.5,195.6L403.6,194.7L405.5,193.7L408.1,194.1L409.7,195.2L408.1,196.6L406.7,199.2L404.8,199.8L402.1,200.3L399.4,200.3L397.2,198.9L396.2,198.0Z" fill="#fee391" stroke="#7a7466" stroke-width="0.4" stroke-linejoin="round" fill-rule="evenodd"/>
<path id="SVN" d="M396.2,198.0L397.2,198.9L395.3,199.7L394.8,201.5L393.2,201.5L391.3,201.6L391.6,201.2L391.2,200.2L390.8,199.4L391.3,198.9L393.2,199.2L395.3,198.4L396.2,198.0Z" fill="#fff7bc" stroke="#7a7466" stroke-width="0.4" stroke-linejoin="round" fill-rule="evenodd"/>
<path id="HRV" d="M391.3,201.6L393.2,201.5L394.8,201.5L395.3,199.7L397.2,198.9L399.4,200.3L402.1,200.3L402.6,201.5L402.6,203.0L400.5,202.5L398.2,202.1L395.9,202.3L395.9,203.1L396.9,205.1L400.1,207.9L402.0,209.2L398.8,207.9L396.4,206.4L394.4,204.0L393.2,202.0L392.0,203.3Z" fill="#fff7bc" stroke="#7a7466" stroke-width="0.4" stroke-linejoin="round" fill-rule="evenodd"/>
<path id="BIH" d="M402.0,209.2L400.1,207.9L396.9,205.1L395.9,203.1L395.9,202.3L398.2,202.1L400.5,202.5L402.6,203.0L403.3,203.0L402.9,204.3L403.8,205.3L403.3,206.6L401.9,207.4L402.0,209.2Z" fill="#fff7bc" stroke="#7a7466" stroke-width="0.4" stroke-linejoin="round" fill-rule="evenodd"/>
<path id="MNE" d="M402.0,209.2L401.9,207.4L403.3,206.6L405.9,208.3L405.3,209.1L404.8,209.2L404.0,210.9L402.1,209.3Z" fill="#fff7bc" stroke="#7a7466" stroke-width="0.4" stroke-linejoin="round" fill-rule="evenodd"/>
<path id="XKX" d="M405.9,208.3L406.7,207.3L408.1,208.3L408.6,209.8L406.9,210.4L406.6,210.9L405.3,209.1L405.9,208.3Z" fill="#fff7bc" stroke="#7a7466" stroke-width="0.4" stroke-linejoin="round" fill-rule="evenodd"/>
<path id="SRB" d="M402.1,200.3L404.8,199.8L402.1,200.3L402.6,201.5L402.6,203.0L403.3,203.0L402.9,204.3L403.8,205.3L403.3,206.6L405.9,208.3L406.7,207.3L408.1,208.3L408.6,209.8L410.2,209.7L411.3,207.4L410.2,206.2L410.3,204.8L408.9,203.8L407.5,203.1L407.7,202.3L404.8,199.8Z" fill="#fff7bc" stroke="#7a7466" stroke-width="0.4" stroke-linejoin="round" fill-rule="evenodd"/>
<path id="ALB" d="M404.0,210.9L404.8,209.2L405.3,209.1L406.6,210.9L406.6,212.3L407.7,213.5L407.0,215.4L405.9,216.4L404.2,214.6L404.3,213.3Z" fill="#fff7bc" stroke="#7a7466" stroke-width="0.4" stroke-linejoin="round" fill-rule="evenodd"/>
<path id="MKD" d="M407.7,213.5L406.6,212.3L406.6,210.9L406.9,210.4L408.6,209.8L410.2,209.7L411.7,212.2L409.8,212.7L407.7,213.5Z" fill="#fff7bc" stroke="#7a7466" stroke-width="0.4" stroke-linejoin="round" fill-rule="evenodd"/>
<path id="ROU" d="M404.8,199.8L406.7,199.2L408.1,196.6L409.7,195.2L409.9,195.1L413.9,195.7L417.1,194.5L418.0,195.1L420.7,198.2L421.4,201.6L424.6,202.3L423.3,203.3L422.7,204.6L422.8,206.0L421.5,205.7L419.4,204.9L416.4,206.2L411.2,205.8L410.3,204.8L408.9,203.8L407.5,203.1L407.7,202.3L404.8,199.8Z" fill="#fee391" stroke="#7a7466" stroke-width="0.4" stroke-linejoin="round" fill-rule="evenodd"/>
<path id="BGR" d="M410.3,204.8L411.2,205.8L416.4,206.2L419.4,204.9L421.5,205.7L422.8,206.0L421.7,208.7L422.2,210.5L420.0,210.2L418.8,211.3L418.4,212.2L416.0,212.2L413.9,211.7L411.7,212.2L410.2,209.7L411.3,207.4L410.2,206.2L410.3,204.8Z" fill="#fee391" stroke="#7a7466" stroke-width="0.4" stroke-linejoin="round" fill-rule="evenodd"/>
<path id="GRC" d="M411.7,212.2L413.9,211.7L416.0,212.2L418.4,212.2L418.8,211.3L418.9,213.2L418.4,213.7L414.9,213.2L414.3,215.7L411.8,214.5L411.3,215.7L412.3,217.5L413.1,219.3L415.0,221.8L412.7,221.1L413.2,222.6L413.4,224.9L411.7,224.9L410.1,224.0L408.6,221.2L410.0,220.1L407.7,218.5L405.9,216.4L407.0,215.4L407.7,213.5L409.8,212.7L411.7,212.2ZM414.3,227.4L416.5,227.6L420.4,228.0L417.6,228.8L414.5,228.0Z" fill="#fee391" stroke="#7a7466" stroke-width="0.4" stroke-linejoin="round" fill-rule="evenodd"/>
<path id="TRE" d="M418.8,211.3L420.0,210.2L422.2,210.5L424.5,212.4L422.5,213.1L421.4,213.2L419.9,214.5L418.9,215.5L418.4,213.7L418.9,213.2L418.8,211.3Z" fill="#fe9929" stroke="#7a7466" stroke-width="0.4" stroke-linejoin="round" fill-rule="evenodd"/>
<path id="CYP" d="M433.5,228.5L434.9,227.8L438.3,226.8L437.2,228.7L435.1,229.7Z" fill="#fee391" stroke="#7a7466" stroke-width="0.4" stroke-linejoin="round" fill-rule="evenodd"/>
<path id="NOR" d="M384.1,167.6L385.1,165.9L386.2,164.7L385.5,163.0L386.8,162.3L385.2,161.4L385.3,160.0L384.8,156.9L387.9,156.0L388.1,155.0L387.4,154.6L388.6,153.0L388.4,151.1L390.1,150.7L391.3,148.0L392.6,146.7L393.9,145.7L397.0,146.0L397.7,144.6L399.5,144.0L401.0,145.4L403.4,145.1L405.4,145.5L406.2,143.1L407.2,142.6L409.6,142.3L412.2,144.0L411.7,144.6L414.5,142.9L413.1,142.7L414.4,141.6L409.1,140.3L405.5,140.1L401.0,140.8L397.2,142.1L393.3,143.4L391.0,144.9L388.6,146.0L387.9,147.4L385.6,149.1L385.0,151.4L383.4,153.7L381.0,156.0L378.4,157.2L375.8,158.3L372.3,160.7L372.4,163.0L372.5,165.4L373.7,168.1L376.4,170.2L378.3,170.0L381.0,168.3L382.8,167.1ZM379.2,123.2L386.2,122.3L393.2,121.8L401.8,122.0L398.2,123.8L394.1,124.9L391.7,127.0L389.1,128.8L384.2,127.0L379.4,124.5Z" fill="#fee391" stroke="#7a7466" stroke-width="0.4" stroke-linejoin="round" fill-rule="evenodd"/>
<path id="SWE" d="M384.1,167.6L385.1,165.9L386.2,164.7L385.5,163.0L386.8,162.3L385.2,161.4L385.3,160.0L384.8,156.9L387.9,156.0L388.1,155.0L387.4,154.6L388.6,153.0L388.4,151.1L390.1,150.7L391.3,148.0L392.6,146.7L393.9,145.7L397.0,146.0L397.7,144.6L399.5,145.6L404.0,147.8L404.1,150.3L405.2,151.9L401.9,152.3L401.1,154.6L400.0,156.5L397.2,157.6L395.2,159.3L394.4,161.4L395.3,164.0L398.3,165.9L396.7,167.8L394.6,168.8L394.6,170.5L394.5,172.7L393.6,174.9L390.8,175.3L390.5,176.6L388.0,176.4L387.3,174.4L385.9,171.4L384.4,169.5Z" fill="#fee391" stroke="#7a7466" stroke-width="0.4" stroke-linejoin="round" fill-rule="evenodd"/>
<path id="FIN" d="M405.2,151.9L404.1,150.3L404.0,147.8L399.5,145.6L397.7,144.6L399.5,144.0L401.0,145.4L403.4,145.1L405.4,145.5L406.2,143.1L407.2,142.6L409.6,142.3L412.2,144.0L411.7,144.6L411.3,145.8L414.3,147.6L413.2,149.4L415.4,152.1L415.4,153.9L417.1,155.3L416.6,156.7L419.7,158.6L419.4,159.5L416.8,161.8L414.2,164.1L409.2,164.9L405.7,165.8L403.6,164.5L402.3,163.0L401.2,159.3L403.3,157.2L406.4,154.8L407.8,153.7Z" fill="#fee391" stroke="#7a7466" stroke-width="0.4" stroke-linejoin="round" fill-rule="evenodd"/>
<path id="RUS" d="M414.5,142.9L418.3,143.8L423.6,144.5L431.2,147.1L434.1,149.6L432.5,151.0L429.1,151.4L422.7,150.0L418.9,148.9L423.7,153.7L424.6,155.1L428.8,156.2L430.5,156.0L429.0,153.7L433.6,154.6L432.8,151.9L435.8,150.5L439.4,151.0L438.0,147.4L436.5,145.6L441.0,146.2L443.0,149.1L445.0,147.8L448.0,146.7L452.3,145.1L456.1,146.0L462.3,144.9L464.8,143.4L471.1,144.2L476.2,145.8L474.9,143.6L472.9,140.8L472.5,136.1L474.3,135.3L479.7,136.5L481.9,140.3L484.6,145.8L487.6,150.7L490.1,149.1L489.4,145.8L484.1,140.3L483.2,136.5L489.0,137.8L493.4,138.2L491.1,135.0L500.2,134.0L497.9,131.5L505.3,129.8L512.5,129.4L518.6,126.6L521.9,127.2L525.9,128.6L535.6,129.6L542.4,134.4L536.4,134.0L531.9,135.7L537.1,134.6L542.3,135.0L550.0,134.8L559.5,135.5L562.9,135.0L569.3,136.3L567.4,137.3L574.4,140.3L578.2,140.8L579.3,139.0L587.7,139.3L588.0,137.1L598.3,137.6L607.2,139.3L613.1,140.5L624.1,140.8L629.3,143.1L634.2,143.1L641.6,142.5L645.4,142.3L648.2,144.7L649.7,145.1L650.5,142.9L655.5,142.9L665.0,144.7L678.2,153.5L677.4,154.1L675.1,154.4L678.2,155.3L685.9,160.0L679.9,161.1L677.2,163.3L677.1,165.6L669.5,165.9L664.6,165.6L669.9,170.7L672.9,174.6L674.4,174.6L675.2,177.8L675.8,182.0L673.8,182.5L675.6,185.3L674.8,187.8L668.9,183.8L662.8,177.6L658.5,172.7L659.3,170.0L660.2,165.9L660.0,161.8L658.3,159.7L655.9,163.0L652.2,161.4L648.1,162.6L648.8,166.4L645.8,167.8L642.2,166.6L638.5,167.1L628.3,167.1L627.0,171.4L626.7,175.1L624.0,178.0L630.2,180.0L631.0,181.0L637.7,182.0L639.5,182.5L641.6,184.5L644.4,190.0L647.0,193.8L646.8,198.9L645.4,204.6L641.6,208.4L638.9,207.7L637.5,209.7L637.2,209.3L636.8,206.6L634.7,203.0L638.1,202.5L635.9,194.3L632.5,195.9L629.4,195.9L626.7,193.1L618.7,190.5L610.6,183.5L604.0,181.3L599.5,181.8L600.4,185.8L601.4,190.0L599.8,191.3L597.0,190.4L593.0,189.5L590.0,191.0L584.6,192.1L577.4,190.0L568.9,189.3L565.8,186.8L558.5,185.0L559.1,190.3L553.4,190.0L546.3,188.0L541.8,191.0L539.9,192.1L539.0,192.3L533.2,189.8L528.2,187.5L522.4,188.0L515.3,181.8L511.5,179.5L507.4,181.0L500.9,179.5L495.8,176.8L489.8,178.5L481.8,180.3L485.2,186.8L482.5,187.5L479.5,187.5L474.3,188.5L466.1,186.0L463.7,185.8L460.3,188.5L457.8,192.1L457.3,194.1L459.7,195.6L462.7,198.7L464.1,199.3L461.1,201.2L460.1,204.3L462.6,207.9L465.6,211.0L464.2,212.6L461.0,210.7L457.5,208.7L455.1,208.9L452.0,207.4L446.7,206.9L442.5,204.3L439.8,203.3L438.8,202.3L440.9,201.0L441.1,199.2L440.6,198.4L443.3,197.6L443.4,197.0L441.2,197.4L443.8,195.1L443.7,191.0L439.4,190.3L438.2,189.3L434.3,189.0L431.3,186.9L429.8,184.1L425.9,184.8L424.6,182.0L427.1,181.5L422.8,177.8L422.5,176.1L417.1,174.7L415.8,172.2L414.8,171.3L414.8,169.7L414.3,168.1L415.2,166.7L417.6,165.5L418.9,165.5L415.7,164.5L414.2,164.1L416.8,161.8L419.4,159.5L419.7,158.6L416.6,156.7L417.1,155.3L415.4,153.9L415.4,152.1L413.2,149.4L414.3,147.6L411.3,145.8L411.7,144.6L414.5,142.9ZM61.6,144.7L64.0,146.5L64.9,148.7L69.0,149.4L69.4,151.2L65.4,152.5L62.5,152.8L60.0,154.8L57.2,155.3L54.4,154.1L52.7,152.3L48.4,153.5ZM446.7,138.6L448.3,135.5L449.3,131.7L454.9,129.8L462.7,128.0L467.5,128.8L461.7,130.7L455.9,133.6L454.0,137.1L458.1,141.0L451.9,140.8ZM493.9,122.0L497.2,120.6L506.5,122.3L503.9,123.6ZM507.8,123.2L514.3,123.8L519.6,125.5L513.0,126.1ZM574.3,130.9L580.4,129.9L593.5,131.3L588.9,132.4L582.1,133.0ZM639.6,181.3L639.2,179.3L643.4,182.5L650.4,190.0L654.3,192.6L655.1,197.6L656.5,198.2L654.9,200.2L651.2,195.1L646.4,188.8L642.7,185.0ZM427.1,121.3L431.0,120.8L435.5,121.1L431.7,121.8ZM654.6,139.9L656.4,139.5L658.2,140.5L656.6,140.8ZM70.2,139.5L73.8,139.7L71.7,140.5L68.4,140.5Z" fill="#9abccb" stroke="#7a7466" stroke-width="0.4" stroke-linejoin="round" fill-rule="evenodd"/>
<path id="MNG" d="M597.0,190.4L593.0,189.5L590.0,191.0L584.6,192.1L577.4,190.0L568.9,189.3L565.8,186.8L558.5,185.0L559.1,190.3L553.4,190.0L546.3,188.0L541.8,191.0L539.9,192.1L543.2,194.8L549.1,197.9L550.7,202.0L556.5,202.8L561.2,204.6L565.2,208.7L574.4,208.8L584.5,211.5L588.8,209.5L594.5,208.7L596.3,206.1L594.3,204.3L594.5,202.8L598.3,203.3L601.3,201.7L602.3,199.4L604.5,198.4L608.3,198.2L603.6,195.1L601.8,195.9L597.3,194.8L597.3,193.1L597.0,190.4Z" fill="#9abccb" stroke="#7a7466" stroke-width="0.4" stroke-linejoin="round" fill-rule="evenodd"/>
<path id="KAZ" d="M464.1,199.3L462.7,198.7L459.7,195.6L457.3,194.1L457.8,192.1L460.3,188.5L463.7,185.8L466.1,186.0L474.3,188.5L479.5,187.5L482.5,187.5L485.2,186.8L481.8,180.3L489.8,178.5L495.8,176.8L500.9,179.5L507.4,181.0L511.5,179.5L515.3,181.8L522.4,188.0L528.2,187.5L533.2,189.8L539.0,192.3L538.5,192.6L536.6,195.1L537.7,197.4L532.4,197.1L532.8,201.5L533.5,202.3L528.5,203.0L532.0,207.4L531.0,207.9L531.8,210.0L528.6,208.4L521.8,208.2L518.2,207.4L517.4,209.2L512.3,208.4L512.3,209.8L508.9,212.3L507.3,213.3L503.1,210.5L502.0,210.5L501.5,207.9L498.4,206.1L492.5,206.6L490.1,204.6L483.7,201.2L479.0,202.8L481.4,212.3L480.3,212.4L476.6,209.7L473.7,211.1L473.2,208.4L470.5,207.7L467.7,204.6L469.1,202.3L472.8,202.0L471.5,197.9L467.8,197.6Z" fill="#9abccb" stroke="#7a7466" stroke-width="0.4" stroke-linejoin="round" fill-rule="evenodd"/>
<path id="UZB" d="M481.4,212.3L479.0,202.8L483.7,201.2L490.1,204.6L492.5,206.6L498.4,206.1L501.5,207.9L502.0,210.5L503.1,210.5L507.3,213.3L508.9,212.3L512.3,209.8L511.3,211.8L513.2,212.6L515.3,212.6L518.0,213.6L515.5,215.1L513.1,215.1L512.2,213.3L509.9,213.6L509.0,215.4L506.8,217.0L508.7,218.5L509.3,222.9L506.5,222.6L500.4,218.5L495.9,215.7L494.1,212.8L489.9,212.3L489.3,210.0L485.8,208.7L483.3,210.5L483.6,212.3L481.4,212.3Z" fill="#fec44f" stroke="#7a7466" stroke-width="0.4" stroke-linejoin="round" fill-rule="evenodd"/>
<path id="TKM" d="M481.4,212.3L480.3,212.4L476.6,209.7L473.7,211.1L475.3,213.1L475.9,215.7L477.3,218.3L479.3,222.6L481.1,222.2L485.9,220.3L490.8,222.2L493.7,224.5L495.4,224.4L496.0,227.1L498.3,227.9L500.0,226.6L502.7,225.3L504.5,222.2L506.5,222.6L500.4,218.5L495.9,215.7L494.1,212.8L489.9,212.3L489.3,210.0L485.8,208.7L483.3,210.5L483.6,212.3L481.4,212.3Z" fill="#fff7bc" stroke="#7a7466" stroke-width="0.4" stroke-linejoin="round" fill-rule="evenodd"/>
<path id="KGZ" d="M512.3,209.8L512.3,208.4L517.4,209.2L518.2,207.4L521.8,208.2L528.6,208.4L531.8,210.0L528.6,212.0L525.8,213.1L524.4,214.6L521.8,214.4L520.7,217.0L520.2,217.1L516.3,217.2L513.6,216.7L511.0,216.7L510.4,215.1L513.1,215.1L515.5,215.1L518.0,213.6L515.3,212.6L513.2,212.6L511.3,211.8L512.3,209.8Z" fill="#9abccb" stroke="#7a7466" stroke-width="0.4" stroke-linejoin="round" fill-rule="evenodd"/>
<path id="TJK" d="M509.3,222.9L508.7,218.5L506.8,217.0L509.0,215.4L509.9,213.6L512.2,213.3L513.1,215.1L510.4,215.1L511.0,216.7L513.6,216.7L516.3,217.2L520.2,217.1L521.6,219.6L524.1,219.8L524.5,222.8L519.9,223.5L517.6,224.2L516.0,220.1L513.9,220.1L514.1,221.9L512.5,223.2L509.3,222.9Z" fill="#fff7bc" stroke="#7a7466" stroke-width="0.4" stroke-linejoin="round" fill-rule="evenodd"/>
<path id="AFG" d="M498.1,242.1L499.6,239.1L497.4,237.8L495.8,233.9L495.4,230.5L496.0,227.1L498.3,227.9L500.0,226.6L502.7,225.3L504.5,222.2L506.5,222.6L509.3,222.9L512.5,223.2L514.1,221.9L513.9,220.1L516.0,220.1L517.6,224.2L519.9,223.5L524.5,222.8L524.0,223.5L519.9,224.0L517.3,225.8L518.8,228.1L518.2,230.5L515.8,231.3L517.1,233.1L515.5,233.6L515.7,236.8L512.7,238.3L509.8,239.4L510.1,242.0L505.4,243.3L501.9,243.3L498.1,242.1Z" fill="#fff7bc" stroke="#7a7466" stroke-width="0.4" stroke-linejoin="round" fill-rule="evenodd"/>
<path id="PAK" d="M501.4,254.2L504.5,250.6L504.3,249.0L503.0,246.4L500.3,244.8L498.1,242.1L501.9,243.3L505.4,243.3L510.1,242.0L509.8,239.4L512.7,238.3L515.7,236.8L515.5,233.6L517.1,233.1L515.8,231.3L518.2,230.5L518.8,228.1L517.3,225.8L519.9,224.0L524.0,223.5L524.5,222.8L527.1,224.5L527.8,226.1L532.0,227.4L530.6,228.7L524.3,229.5L525.2,233.4L528.6,235.7L526.5,234.9L527.6,239.1L524.9,242.0L523.5,246.4L520.4,246.9L518.4,249.5L520.7,252.9L522.7,256.3L517.8,256.6L516.7,258.2L515.0,257.6L513.0,255.3L512.6,254.0L507.9,254.2Z" fill="#fe9929" stroke="#7a7466" stroke-width="0.4" stroke-linejoin="round" fill-rule="evenodd"/>
<path id="IND" d="M516.7,258.2L517.8,256.6L522.7,256.3L520.7,252.9L518.4,249.5L520.4,246.9L523.5,246.4L524.9,242.0L527.6,239.1L526.5,234.9L528.6,235.7L525.2,233.4L524.3,229.5L530.6,228.7L532.0,227.4L535.2,230.2L536.6,235.2L536.6,237.8L542.4,241.2L541.2,244.8L549.0,248.5L550.5,248.2L555.0,250.6L560.2,251.1L559.5,247.3L560.9,246.8L561.6,248.8L562.0,250.1L563.9,250.3L568.7,249.9L568.6,248.2L567.4,247.5L570.0,245.6L572.9,243.5L576.1,243.3L579.8,246.3L577.8,248.8L576.3,252.2L575.6,255.5L574.8,257.6L573.0,257.4L573.7,260.5L573.2,262.1L572.2,262.7L571.1,260.0L568.5,258.7L568.7,257.1L570.5,254.8L565.0,254.0L564.3,252.4L561.8,251.4L560.9,250.8L560.5,252.7L562.6,254.2L560.8,255.8L562.6,256.9L563.5,260.2L564.4,263.1L562.0,263.6L559.8,264.2L559.6,266.5L556.0,269.6L552.6,273.8L550.7,276.7L548.3,278.2L546.0,280.1L547.0,285.8L546.3,290.3L546.6,293.1L545.2,293.1L544.9,295.7L542.9,296.8L541.4,298.9L538.2,294.2L534.4,286.3L531.6,279.6L530.2,276.9L528.4,270.4L527.8,265.2L527.0,262.1L526.2,262.9L526.7,264.9L523.8,266.0L522.5,265.7L518.9,262.1L521.6,260.2L518.7,260.5Z" fill="#cc4c02" stroke="#7a7466" stroke-width="0.4" stroke-linejoin="round" fill-rule="evenodd"/>
<path id="NPL" d="M559.5,247.3L560.2,251.1L555.0,250.6L550.5,248.2L549.0,248.5L541.2,244.8L542.4,241.2L545.1,241.5L550.2,244.6L554.7,246.9L559.5,247.3Z" fill="#fee391" stroke="#7a7466" stroke-width="0.4" stroke-linejoin="round" fill-rule="evenodd"/>
<path id="BTN" d="M567.4,247.5L568.6,248.2L568.7,249.9L563.9,250.3L562.0,250.1L561.6,248.8L563.1,246.4L567.4,247.5Z" fill="#fff7bc" stroke="#7a7466" stroke-width="0.4" stroke-linejoin="round" fill-rule="evenodd"/>
<path id="BGD" d="M564.4,263.1L563.5,260.2L562.6,256.9L560.8,255.8L562.6,254.2L560.5,252.7L560.9,250.8L561.8,251.4L564.3,252.4L565.0,254.0L570.5,254.8L568.7,257.1L568.5,258.7L571.1,260.0L572.2,262.7L567.3,261.8L567.4,260.5L570.3,261.8L572.0,266.0L572.2,262.7Z" fill="#fe9929" stroke="#7a7466" stroke-width="0.4" stroke-linejoin="round" fill-rule="evenodd"/>
<path id="LKA" d="M547.3,294.4L551.3,300.4L551.6,301.7L550.1,303.8L547.6,304.3L546.4,299.1Z" fill="#fee391" stroke="#7a7466" stroke-width="0.4" stroke-linejoin="round" fill-rule="evenodd"/>
<path id="MMR" d="M572.2,262.7L572.0,266.0L576.2,269.6L577.5,273.0L578.2,278.2L580.8,279.0L583.7,274.9L584.5,275.9L585.9,278.2L587.6,284.5L589.2,289.5L589.4,294.0L591.4,289.2L589.9,285.6L587.4,280.6L588.5,277.2L585.6,274.1L584.4,271.7L585.3,268.6L589.8,266.9L591.7,263.6L587.0,262.3L586.2,259.7L582.6,257.4L582.5,255.3L584.2,252.4L583.3,248.2L579.8,246.3L577.8,248.8L576.3,252.2L575.6,255.5L574.8,257.6L573.0,257.4L573.7,260.5L573.2,262.1L572.2,262.7Z" fill="#fee391" stroke="#7a7466" stroke-width="0.4" stroke-linejoin="round" fill-rule="evenodd"/>
<path id="THA" d="M589.8,266.9L585.3,268.6L584.4,271.7L585.6,274.1L588.5,277.2L587.4,280.6L589.9,285.6L591.4,289.2L589.4,294.0L589.3,296.5L589.2,299.1L591.6,300.4L593.5,303.2L594.0,303.0L595.9,305.1L598.2,303.7L594.4,301.2L593.0,297.8L591.3,296.0L590.8,292.6L592.3,288.7L592.0,285.6L593.1,284.8L594.0,284.8L594.4,286.9L599.0,289.6L597.4,284.8L598.6,282.9L603.6,282.7L604.2,282.2L604.1,279.3L602.0,277.2L601.4,274.6L599.5,272.2L595.2,272.5L592.9,274.1L592.6,269.1L591.0,269.1L589.8,266.9Z" fill="#fe9929" stroke="#7a7466" stroke-width="0.4" stroke-linejoin="round" fill-rule="evenodd"/>
<path id="LAO" d="M589.8,266.9L591.0,269.1L592.6,269.1L592.9,274.1L595.2,272.5L599.5,272.2L601.4,274.6L602.0,277.2L604.1,279.3L604.2,282.2L603.6,282.7L605.5,283.7L605.4,282.7L608.8,281.6L608.6,280.9L608.3,278.5L605.6,275.6L602.1,271.5L599.0,269.1L599.7,266.8L598.4,265.7L596.1,265.2L593.6,261.5L593.3,264.7L591.7,263.6L589.8,266.9Z" fill="#fff7bc" stroke="#7a7466" stroke-width="0.4" stroke-linejoin="round" fill-rule="evenodd"/>
<path id="KHM" d="M603.6,282.7L598.6,282.9L597.4,284.8L599.0,289.6L599.4,290.8L600.6,292.3L602.9,292.9L604.0,291.6L605.8,291.3L606.1,289.5L609.6,287.9L608.8,281.6L605.4,282.7L605.5,283.7L603.6,282.7Z" fill="#fff7bc" stroke="#7a7466" stroke-width="0.4" stroke-linejoin="round" fill-rule="evenodd"/>
<path id="VNM" d="M593.6,261.5L596.5,260.8L600.3,259.2L603.5,261.0L603.8,262.6L607.1,263.8L604.5,265.7L603.0,270.4L605.1,273.6L607.0,275.9L610.1,278.2L612.8,283.7L613.5,287.4L613.1,290.3L609.2,292.9L607.7,294.9L604.5,297.6L603.8,294.4L602.9,292.9L604.0,291.6L605.8,291.3L606.1,289.5L609.6,287.9L608.8,281.6L608.6,280.9L608.3,278.5L605.6,275.6L602.1,271.5L599.0,269.1L599.7,266.8L598.4,265.7L596.1,265.2L593.6,261.5Z" fill="#fe9929" stroke="#7a7466" stroke-width="0.4" stroke-linejoin="round" fill-rule="evenodd"/>
<path id="MYS" d="M593.5,303.2L594.0,303.0L595.9,305.1L598.2,303.7L594.4,306.2L595.2,309.6L596.7,312.4L598.8,314.3L601.9,316.6L603.5,316.3L601.8,312.7L601.4,309.6L600.6,305.9ZM634.1,309.1L629.9,308.8L629.6,311.1L628.3,313.7L627.9,316.1L623.7,316.3L621.9,316.3L619.1,317.4L618.0,317.8L616.0,314.8L619.1,316.1L619.8,313.7L623.6,311.6L625.8,308.0L627.2,309.6L628.6,308.8L628.3,307.2L629.1,305.6L631.9,302.0L634.0,303.6L634.3,304.6L635.0,304.9L637.6,306.2L636.2,308.5Z" fill="#9abccb" stroke="#7a7466" stroke-width="0.4" stroke-linejoin="round" fill-rule="evenodd"/>
<path id="BRN" d="M626.0,308.0L628.3,307.2L628.6,308.8L627.2,309.6Z" fill="#fee391" stroke="#7a7466" stroke-width="0.4" stroke-linejoin="round" fill-rule="evenodd"/>
<path id="IDN" d="M634.1,309.1L629.9,308.8L629.6,311.1L628.3,313.7L627.9,316.1L623.7,316.3L621.9,316.3L619.1,317.4L618.0,317.8L616.0,314.8L614.5,317.4L614.5,319.2L615.2,322.1L616.8,323.4L617.2,327.6L620.6,327.8L620.6,328.9L623.6,328.4L627.3,329.1L627.2,330.7L630.5,330.2L631.2,327.8L631.8,323.9L634.1,322.1L634.1,320.0L634.6,317.4L637.6,317.4L635.2,314.3L634.6,310.6ZM582.6,305.4L587.7,306.4L589.7,309.0L593.7,313.0L594.7,314.3L597.9,315.6L600.7,318.2L601.9,320.0L602.6,322.6L604.1,324.7L607.5,327.6L607.7,328.6L607.0,335.1L605.6,335.4L604.0,335.1L598.9,330.4L596.0,326.5L594.5,322.3L591.5,317.4L590.8,315.6L587.2,311.6L582.9,307.0ZM605.2,337.7L607.2,335.4L612.8,337.5L617.4,338.0L618.6,336.7L622.2,338.0L626.5,340.1L626.1,342.4L620.6,341.7L613.8,340.4L608.1,339.3ZM626.4,341.1L629.1,341.1L631.4,341.9L630.8,343.2L627.9,343.0ZM631.6,341.9L636.7,341.7L636.6,343.0L632.0,343.5ZM638.7,341.9L645.9,341.7L645.3,343.0L638.9,343.0ZM636.4,344.8L640.5,345.6L638.6,346.6ZM646.6,346.9L648.0,344.3L650.3,343.5L650.5,344.8ZM639.9,316.9L642.2,316.6L646.8,317.5L651.9,315.8L650.0,319.0L646.8,318.7L643.4,318.7L640.4,319.0L640.4,322.3L643.8,322.3L647.7,322.1L647.7,322.6L644.0,324.7L645.1,327.8L647.0,331.0L646.4,334.1L644.2,332.5L643.1,330.4L641.9,327.0L640.5,332.5L640.4,334.6L638.1,334.4L638.6,329.1L637.0,327.3L638.3,323.4L639.4,320.0ZM657.1,314.8L658.3,314.3L659.9,317.4L658.3,318.7L658.3,322.1L657.4,318.7L657.2,317.4ZM658.2,327.8L664.6,328.6L661.6,329.1L658.6,328.9ZM653.6,328.4L656.3,328.9L654.7,329.9ZM688.2,326.8L687.0,343.7L684.8,341.1L682.5,340.9L681.0,338.8L682.1,337.0L680.7,333.8L676.2,331.7L670.8,329.9L669.8,330.4L669.5,326.5L671.6,326.0L668.2,326.0L667.3,324.2L665.0,322.3L668.7,321.0L672.2,322.1L672.8,326.5L674.8,328.6L677.9,325.7L680.9,323.9ZM671.9,335.1L673.5,334.6L672.6,337.7L671.7,337.0ZM664.4,339.6L666.1,338.8L665.7,340.9ZM648.9,341.4L650.7,341.1L650.2,341.9L648.9,341.9Z" fill="#fe9929" stroke="#7a7466" stroke-width="0.4" stroke-linejoin="round" fill-rule="evenodd"/>
<path id="TLS" d="M650.3,343.5L655.7,341.9L655.0,343.0L650.5,344.8Z" fill="#fff7bc" stroke="#7a7466" stroke-width="0.4" stroke-linejoin="round" fill-rule="evenodd"/>
<path id="PNG" d="M688.2,326.8L687.0,343.7L691.6,344.0L692.5,341.9L695.4,340.1L698.8,341.1L701.2,344.8L707.1,347.4L708.9,347.7L707.4,346.6L706.1,343.7L703.7,342.7L701.7,339.6L701.3,337.7L703.4,337.5L702.7,335.7L698.8,334.4L698.9,333.0L696.1,330.2ZM704.5,334.9L708.5,333.6L713.8,331.0L713.9,333.0L710.7,335.7L706.1,336.2ZM710.8,326.8L714.5,329.9L715.8,332.0L714.9,331.5L711.2,327.8ZM719.3,334.4L721.8,337.7L720.2,337.2Z" fill="#9abccb" stroke="#7a7466" stroke-width="0.4" stroke-linejoin="round" fill-rule="evenodd"/>
<path id="PHL" d="M637.1,271.7L640.7,271.7L641.4,275.6L642.3,276.9L640.5,278.8L641.0,282.2L643.1,282.9L647.3,287.1L646.7,286.1L644.5,284.5L641.7,284.0L638.9,284.0L638.7,282.2L637.4,281.4L636.4,277.5L637.2,276.7L636.9,273.6ZM643.8,302.0L643.9,299.4L645.9,298.1L647.8,299.1L648.8,297.6L651.3,294.4L653.7,297.8L654.3,303.6L653.6,303.6L652.1,305.4L651.7,302.8L651.3,304.3L648.8,303.3L648.6,301.0L647.2,300.4ZM647.8,287.4L650.6,288.2L651.5,291.3L650.1,293.9L649.6,293.6L648.4,290.3ZM642.7,288.9L645.4,290.0L644.5,292.6L643.1,292.6ZM645.1,291.6L646.7,291.6L647.8,293.9L646.2,296.3L644.4,294.2ZM632.5,298.1L637.2,290.5L636.9,292.6L633.6,297.6ZM638.6,285.0L641.2,285.8L640.8,287.9Z" fill="#9abccb" stroke="#7a7466" stroke-width="0.4" stroke-linejoin="round" fill-rule="evenodd"/>
<path id="TWN" d="M634.6,254.5L636.7,254.8L636.6,259.7L635.8,262.7L633.7,260.0L634.6,255.3Z" fill="#fee391" stroke="#7a7466" stroke-width="0.4" stroke-linejoin="round" fill-rule="evenodd"/>
<path id="CHN" d="M607.1,263.8L603.8,262.6L603.5,261.0L600.3,259.2L596.5,260.8L593.6,261.5L593.3,264.7L591.7,263.6L587.0,262.3L586.2,259.7L582.6,257.4L582.5,255.3L584.2,252.4L583.3,248.2L579.8,246.3L576.1,243.3L572.9,243.5L570.0,245.6L567.4,247.5L563.1,246.4L561.6,248.8L560.9,246.8L559.5,247.3L554.7,246.9L550.2,244.6L545.1,241.5L542.4,241.2L536.6,237.8L536.6,235.2L535.2,230.2L532.0,227.4L527.8,226.1L527.1,224.5L524.5,222.8L524.1,219.8L521.6,219.6L520.2,217.1L520.7,217.0L521.8,214.4L524.4,214.6L525.8,213.1L528.6,212.0L531.8,210.0L531.0,207.9L532.0,207.4L528.5,203.0L533.5,202.3L532.8,201.5L532.4,197.1L537.7,197.4L536.6,195.1L538.5,192.6L539.0,192.3L539.9,192.1L543.2,194.8L549.1,197.9L550.7,202.0L556.5,202.8L561.2,204.6L565.2,208.7L574.4,208.8L584.5,211.5L588.8,209.5L594.5,208.7L596.3,206.1L594.3,204.3L594.5,202.8L598.3,203.3L601.3,201.7L602.3,199.4L604.5,198.4L608.3,198.2L603.6,195.1L601.8,195.9L597.3,194.8L597.3,193.1L597.0,190.4L599.8,191.3L601.4,190.0L600.4,185.8L599.5,181.8L604.0,181.3L610.6,183.5L618.7,190.5L626.7,193.1L629.4,195.9L632.5,195.9L635.9,194.3L638.1,202.5L634.7,203.0L636.8,206.6L637.2,209.3L635.1,207.9L635.2,209.2L632.4,210.5L633.7,212.0L630.3,211.0L629.6,213.1L627.5,215.8L625.1,216.7L623.0,218.5L622.0,218.3L621.2,213.6L619.2,213.3L617.0,217.5L614.6,218.3L616.2,220.3L619.5,222.9L623.2,221.6L627.0,222.4L627.2,223.5L623.9,225.8L622.3,228.7L628.1,233.9L628.8,235.2L632.2,239.1L629.7,240.9L633.3,241.7L633.5,243.0L632.6,246.9L630.8,250.8L631.0,253.5L628.3,256.3L625.6,260.0L620.8,261.8L619.4,261.8L616.1,263.4L612.9,264.7L612.2,267.0L610.6,263.9L607.1,263.8ZM609.7,269.6L612.3,267.5L614.8,268.9L613.0,272.0L610.8,272.2Z" fill="#8c2d04" stroke="#7a7466" stroke-width="0.4" stroke-linejoin="round" fill-rule="evenodd"/>
<path id="PRK" d="M627.5,215.8L629.6,213.1L630.3,211.0L633.7,212.0L632.4,210.5L635.2,209.2L635.1,207.9L637.2,209.3L637.5,209.7L636.7,211.8L637.6,213.3L636.0,215.1L634.4,216.2L635.1,217.5L637.8,219.3L635.7,220.1L635.3,221.5L633.3,221.6L630.6,220.6L631.2,219.0L629.7,217.0Z" fill="#fee391" stroke="#7a7466" stroke-width="0.4" stroke-linejoin="round" fill-rule="evenodd"/>
<path id="KOR" d="M635.3,221.5L635.7,220.1L637.8,219.3L642.1,223.5L643.3,226.1L643.8,228.1L642.9,228.9L640.7,229.5L638.2,229.7L637.5,227.1L635.4,224.2L635.9,223.5Z" fill="#fec44f" stroke="#7a7466" stroke-width="0.4" stroke-linejoin="round" fill-rule="evenodd"/>
<path id="JPN" d="M661.5,212.0L665.6,216.7L665.3,220.1L667.1,223.5L668.4,226.8L667.1,228.7L665.7,229.5L664.1,229.7L661.5,229.7L661.6,230.5L660.2,232.6L657.7,230.5L657.4,229.5L655.0,229.7L652.0,230.5L649.1,231.3L648.5,230.4L649.4,230.0L651.1,227.4L654.7,226.8L657.8,226.6L658.1,224.0L658.5,222.2L658.6,223.7L661.2,222.4L661.8,219.6L661.0,216.2L659.8,214.1L659.7,212.6ZM658.2,211.5L657.7,209.7L656.3,207.1L655.3,201.7L659.6,204.0L664.7,204.6L667.5,207.0L664.5,208.2L664.3,210.5L659.8,208.9L658.5,209.2L660.1,211.1ZM647.5,232.6L649.2,231.5L652.1,233.6L652.9,237.8L651.6,239.1L649.5,236.5L647.4,233.9ZM652.4,231.3L656.0,230.5L657.4,231.8L656.9,233.1L654.8,234.4L652.7,232.6Z" fill="#fec44f" stroke="#7a7466" stroke-width="0.4" stroke-linejoin="round" fill-rule="evenodd"/>
<path id="GEO" d="M446.7,206.9L452.0,207.4L455.1,208.9L457.5,208.7L461.0,210.7L450.0,208.9L450.9,211.8L453.1,211.7L455.1,212.8L458.3,212.4L461.7,212.8L461.0,210.7Z" fill="#fff7bc" stroke="#7a7466" stroke-width="0.4" stroke-linejoin="round" fill-rule="evenodd"/>
<path id="ARM" d="M458.3,212.4L455.1,212.8L458.6,216.4L456.1,215.4L455.1,212.8L460.2,217.0L461.9,218.7L462.6,218.5L462.4,216.8L460.9,215.1L459.8,213.6L458.3,212.4Z" fill="#fff7bc" stroke="#7a7466" stroke-width="0.4" stroke-linejoin="round" fill-rule="evenodd"/>
<path id="AZE" d="M461.0,210.7L461.7,212.8L458.3,212.4L459.8,213.6L460.9,215.1L462.4,216.8L462.6,218.5L465.0,216.4L466.2,217.2L465.9,218.8L468.0,219.7L468.6,217.2L470.2,214.9L468.1,214.1L465.6,211.0L464.2,212.6L461.0,210.7ZM458.6,216.4L460.2,217.0L461.9,218.7L460.2,218.3L458.7,216.7Z" fill="#fff7bc" stroke="#7a7466" stroke-width="0.4" stroke-linejoin="round" fill-rule="evenodd"/>
<path id="TUR" d="M424.7,212.6L429.4,212.8L432.7,210.5L436.9,210.4L440.3,212.3L444.7,213.2L447.8,213.1L450.9,211.8L453.1,211.7L455.1,212.8L456.1,215.4L458.6,216.4L458.7,216.7L458.4,219.8L459.8,223.1L454.5,223.2L449.6,224.0L445.2,224.0L442.4,224.0L442.4,225.5L441.7,226.2L441.0,226.3L441.4,224.5L439.9,224.5L437.9,224.0L434.7,225.8L434.3,226.1L429.3,223.9L429.0,225.4L426.1,224.2L422.4,224.2L421.3,221.6L419.6,220.1L420.9,219.6L420.4,217.5L418.9,217.0L419.0,215.7L421.6,214.6L424.8,214.5L426.6,213.7L424.6,213.1Z" fill="#fe9929" stroke="#7a7466" stroke-width="0.4" stroke-linejoin="round" fill-rule="evenodd"/>
<path id="IRN" d="M459.8,223.1L458.4,219.8L458.7,216.7L460.2,218.3L461.9,218.7L462.6,218.5L465.0,216.4L466.2,217.2L465.9,218.8L468.0,219.7L468.6,221.9L471.3,222.4L473.3,224.0L476.6,224.2L479.5,223.7L479.3,222.6L481.1,222.2L485.9,220.3L490.8,222.2L493.7,224.5L495.4,224.4L496.0,227.1L495.4,230.5L495.8,233.9L497.4,237.8L499.6,239.1L498.1,242.1L500.3,244.8L503.0,246.4L504.3,249.0L504.5,250.6L501.4,254.2L495.5,253.7L491.5,252.4L490.0,249.3L485.1,250.6L480.3,248.0L476.1,244.3L474.1,241.2L471.4,240.9L470.8,241.8L469.3,240.4L468.5,239.1L468.4,237.0L467.3,235.5L464.0,233.9L462.4,231.3L463.7,228.4L462.9,226.6L461.5,226.1L459.8,223.1Z" fill="#fec44f" stroke="#7a7466" stroke-width="0.4" stroke-linejoin="round" fill-rule="evenodd"/>
<path id="IRQ" d="M459.8,223.1L461.5,226.1L462.9,226.6L463.7,228.4L462.4,231.3L464.0,233.9L467.3,235.5L468.4,237.0L468.5,239.1L469.3,240.4L470.8,241.8L469.5,241.7L468.8,241.5L467.5,243.0L466.6,244.1L462.5,243.8L456.1,238.8L452.1,236.8L449.4,236.1L448.9,235.2L448.1,232.8L452.6,230.2L452.8,227.1L452.7,224.8L454.5,223.2L459.8,223.1Z" fill="#fee391" stroke="#7a7466" stroke-width="0.4" stroke-linejoin="round" fill-rule="evenodd"/>
<path id="SYR" d="M441.0,226.3L441.7,226.2L442.4,225.5L442.4,224.0L445.2,224.0L449.6,224.0L454.5,223.2L441.4,229.6L442.5,229.7L443.1,230.8L442.0,232.3L441.6,233.1L441.6,234.7L444.1,235.7L448.1,232.8L452.6,230.2L452.8,227.1L452.7,224.8L454.5,223.2Z" fill="#fee391" stroke="#7a7466" stroke-width="0.4" stroke-linejoin="round" fill-rule="evenodd"/>
<path id="LBN" d="M441.6,233.1L442.0,232.3L443.1,230.8L442.5,229.7L441.4,229.6L440.1,233.6L441.6,233.1Z" fill="#fff7bc" stroke="#7a7466" stroke-width="0.4" stroke-linejoin="round" fill-rule="evenodd"/>
<path id="ISR" d="M441.6,233.1L440.1,233.6L439.3,237.7L438.8,238.5L440.6,243.0L440.8,243.0L441.4,239.1L441.3,235.5L441.6,234.7L441.6,233.1Z" fill="#fff7bc" stroke="#7a7466" stroke-width="0.4" stroke-linejoin="round" fill-rule="evenodd"/>
<path id="JOR" d="M441.6,234.7L441.3,235.5L441.4,239.1L440.8,243.0L440.8,243.4L443.2,243.8L446.3,241.7L447.3,240.4L444.8,237.8L449.4,236.1L448.9,235.2L448.1,232.8L444.1,235.7L441.6,234.7Z" fill="#fff7bc" stroke="#7a7466" stroke-width="0.4" stroke-linejoin="round" fill-rule="evenodd"/>
<path id="SAU" d="M449.4,236.1L444.8,237.8L447.3,240.4L446.3,241.7L443.2,243.8L440.8,243.4L441.7,246.9L445.5,252.9L448.7,257.4L451.6,263.9L455.1,269.1L458.3,273.6L460.7,277.2L461.8,274.6L464.5,274.6L469.1,275.1L471.4,275.6L472.3,272.5L474.5,271.5L481.2,270.4L487.8,267.8L488.8,262.6L487.7,260.8L481.8,260.1L479.2,257.1L479.2,256.6L477.3,255.4L475.7,253.2L475.2,250.3L472.5,248.0L470.9,245.5L469.3,245.6L466.6,244.1L462.5,243.8L456.1,238.8L452.1,236.8L449.4,236.1Z" fill="#fee391" stroke="#7a7466" stroke-width="0.4" stroke-linejoin="round" fill-rule="evenodd"/>
<path id="KWT" d="M466.6,244.1L469.3,245.6L470.9,245.5L469.7,243.3L469.5,241.7L468.8,241.5L467.5,243.0L466.6,244.1Z" fill="#fff7bc" stroke="#7a7466" stroke-width="0.4" stroke-linejoin="round" fill-rule="evenodd"/>
<path id="QAT" d="M477.3,255.4L478.2,255.8L479.0,254.8L478.8,252.4L477.8,251.8L477.1,253.5Z" fill="#fff7bc" stroke="#7a7466" stroke-width="0.4" stroke-linejoin="round" fill-rule="evenodd"/>
<path id="ARE" d="M479.2,256.6L479.2,257.1L481.8,260.1L487.7,260.8L481.5,256.9L484.6,256.9L487.4,253.7L488.8,252.2L489.8,255.0L488.7,256.9L487.7,260.8Z" fill="#fff7bc" stroke="#7a7466" stroke-width="0.4" stroke-linejoin="round" fill-rule="evenodd"/>
<path id="OMN" d="M487.7,260.8L488.7,256.9L489.8,255.0L490.9,256.9L495.1,258.4L498.1,261.3L496.1,266.8L494.2,270.7L491.7,273.0L488.5,275.6L484.2,276.6L481.2,270.4L487.8,267.8L488.8,262.6L487.7,260.8ZM488.8,252.2L489.4,251.1L489.8,252.4Z" fill="#fff7bc" stroke="#7a7466" stroke-width="0.4" stroke-linejoin="round" fill-rule="evenodd"/>
<path id="YEM" d="M481.2,270.4L484.2,276.6L482.3,279.3L474.6,283.5L466.3,286.6L462.8,287.0L462.1,285.3L461.2,281.1L460.7,277.2L461.8,274.6L464.5,274.6L469.1,275.1L471.4,275.6L472.3,272.5L474.5,271.5L481.2,270.4Z" fill="#fff7bc" stroke="#7a7466" stroke-width="0.4" stroke-linejoin="round" fill-rule="evenodd"/>
<path id="MAR" d="M333.9,247.8L337.8,245.1L341.1,243.0L341.7,239.1L341.7,237.8L343.6,234.4L344.7,233.1L348.5,231.0L350.5,226.6L351.8,226.3L354.6,228.1L357.0,227.9L358.5,228.4L359.6,231.3L359.6,233.9L360.7,236.2L356.7,237.0L355.1,239.4L352.2,241.7L351.1,242.2L347.8,243.0L344.0,245.1L344.0,247.8L333.9,247.8Z" fill="#fee391" stroke="#7a7466" stroke-width="0.4" stroke-linejoin="round" fill-rule="evenodd"/>
<path id="ESH" d="M333.9,247.8L344.0,247.8L344.0,248.8L343.9,252.2L336.4,252.2L336.3,258.8L334.0,260.0L333.9,264.3L325.1,264.3L324.8,265.7L324.7,265.2L327.3,258.2L329.9,254.8L330.9,251.4L333.9,247.8Z" fill="url(#hatch)" stroke="#b9b9b9" stroke-width="0.4" stroke-linejoin="round" fill-rule="evenodd"/>
<path id="DZA" d="M344.0,247.8L344.0,245.1L347.8,243.0L351.1,242.2L352.2,241.7L355.1,239.4L356.7,237.0L360.7,236.2L359.6,233.9L359.6,231.3L358.5,228.4L363.3,226.3L366.5,224.8L369.8,224.0L374.7,224.2L378.2,223.5L381.8,223.6L381.0,225.0L381.3,228.7L379.7,231.3L379.9,233.1L383.1,236.2L384.3,240.9L385.3,244.6L385.2,250.8L384.3,251.6L386.4,256.1L390.2,258.7L380.3,265.5L376.2,268.9L372.9,270.0L370.6,270.2L370.5,268.6L367.4,267.0L365.9,264.9L352.5,254.8L344.0,248.8L344.0,247.8Z" fill="#fee391" stroke="#7a7466" stroke-width="0.4" stroke-linejoin="round" fill-rule="evenodd"/>
<path id="TUN" d="M384.3,240.9L383.1,236.2L379.9,233.1L379.7,231.3L381.3,228.7L381.0,225.0L381.8,223.6L384.6,222.7L387.2,223.5L386.0,225.0L386.3,226.6L387.4,228.1L385.1,230.8L387.6,233.1L388.5,233.5L386.0,237.3L384.3,240.9Z" fill="#fee391" stroke="#7a7466" stroke-width="0.4" stroke-linejoin="round" fill-rule="evenodd"/>
<path id="LBY" d="M384.3,240.9L386.0,237.3L388.5,233.5L392.2,234.1L396.9,235.7L398.6,238.6L402.6,239.4L406.0,240.9L407.6,239.1L407.3,236.5L410.4,234.1L414.0,234.9L414.3,236.0L418.6,237.4L418.4,241.7L418.8,243.8L419.7,262.6L419.9,267.8L417.6,267.8L417.7,269.1L399.1,258.9L397.1,260.0L395.3,261.0L393.7,259.7L390.2,258.7L386.4,256.1L384.3,251.6L385.2,250.8L385.3,244.6L384.3,240.9Z" fill="#fff7bc" stroke="#7a7466" stroke-width="0.4" stroke-linejoin="round" fill-rule="evenodd"/>
<path id="EGY" d="M419.7,262.6L418.8,243.8L418.4,241.7L418.6,237.4L422.8,238.1L427.3,239.5L431.3,237.8L432.7,237.8L434.5,238.5L437.8,238.8L438.8,238.5L440.6,243.0L439.9,246.9L439.5,247.6L437.1,245.4L435.5,242.0L435.7,244.3L438.1,247.5L439.2,250.1L440.8,253.5L443.1,257.4L443.2,258.7L446.5,262.6L419.7,262.6Z" fill="#fe9929" stroke="#7a7466" stroke-width="0.4" stroke-linejoin="round" fill-rule="evenodd"/>
<path id="MRT" d="M344.0,248.8L343.9,252.2L336.4,252.2L336.3,258.8L334.0,260.0L333.9,264.3L325.1,264.3L324.8,265.7L344.0,248.8L352.5,254.8L348.8,254.9L349.8,266.1L350.8,277.5L350.8,279.6L341.6,279.6L339.1,280.6L337.1,279.8L336.4,281.4L335.4,281.6L333.7,279.6L331.4,277.5L329.2,276.4L325.7,278.1L326.9,273.0L326.3,270.2L326.4,267.8L324.8,265.7Z" fill="#fff7bc" stroke="#7a7466" stroke-width="0.4" stroke-linejoin="round" fill-rule="evenodd"/>
<path id="MLI" d="M335.4,281.6L336.4,281.4L337.1,279.8L339.1,280.6L341.6,279.6L350.8,279.6L350.8,277.5L349.8,266.1L348.8,254.9L352.5,254.8L365.9,264.9L367.4,267.0L370.5,268.6L370.6,270.2L372.9,270.0L372.9,276.2L371.3,279.8L366.5,280.1L363.9,281.0L361.7,280.7L358.7,282.7L356.7,283.5L354.2,285.0L353.2,287.1L351.2,289.7L350.7,292.9L349.1,292.3L347.5,293.4L344.9,293.4L344.3,291.3L343.1,289.7L342.7,288.4L339.7,288.2L337.2,287.6L337.0,286.1L335.9,284.8L335.4,281.6Z" fill="#fff7bc" stroke="#7a7466" stroke-width="0.4" stroke-linejoin="round" fill-rule="evenodd"/>
<path id="SEN" d="M325.7,278.1L329.2,276.4L331.4,277.5L333.7,279.6L335.4,281.6L335.9,284.8L337.0,286.1L337.2,287.6L334.7,287.6L331.9,287.1L325.1,287.8L324.9,285.8L331.7,285.6L331.7,284.8L324.9,284.5L323.4,281.5L325.7,278.1Z" fill="#fff7bc" stroke="#7a7466" stroke-width="0.4" stroke-linejoin="round" fill-rule="evenodd"/>
<path id="GMB" d="M324.9,284.5L331.7,284.8L331.7,285.6L324.9,285.8Z" fill="#fee391" stroke="#7a7466" stroke-width="0.4" stroke-linejoin="round" fill-rule="evenodd"/>
<path id="GNB" d="M325.1,287.8L331.9,287.1L331.9,289.5L328.9,291.4L327.8,290.0L325.1,287.8Z" fill="#9abccb" stroke="#7a7466" stroke-width="0.4" stroke-linejoin="round" fill-rule="evenodd"/>
<path id="GIN" d="M328.9,291.4L331.9,289.5L331.9,287.1L334.7,287.6L337.2,287.6L339.7,288.2L342.7,288.4L343.1,289.7L344.3,291.3L344.9,293.4L345.4,293.4L344.5,297.8L343.9,300.3L341.9,300.7L341.7,298.1L339.8,297.9L338.9,298.3L339.2,296.5L337.6,293.9L334.8,294.2L332.9,296.5L331.9,295.2L328.9,291.4Z" fill="#fff7bc" stroke="#7a7466" stroke-width="0.4" stroke-linejoin="round" fill-rule="evenodd"/>
<path id="SLE" d="M332.9,296.5L334.8,294.2L337.6,293.9L339.2,296.5L338.9,298.3L339.8,297.9L338.9,299.6L336.9,302.0L334.6,300.7L333.0,298.6L332.9,296.5Z" fill="#fff7bc" stroke="#7a7466" stroke-width="0.4" stroke-linejoin="round" fill-rule="evenodd"/>
<path id="LBR" d="M336.9,302.0L338.9,299.6L339.8,297.9L341.7,298.1L341.9,300.7L343.9,300.3L344.0,303.0L346.0,304.9L345.9,308.6L342.6,307.0L338.5,303.6L336.9,302.0Z" fill="#fff7bc" stroke="#7a7466" stroke-width="0.4" stroke-linejoin="round" fill-rule="evenodd"/>
<path id="CIV" d="M345.9,308.6L346.0,304.9L344.0,303.0L343.9,300.3L344.5,297.8L345.4,293.4L344.9,293.4L347.5,293.4L349.1,292.3L350.7,292.9L353.0,294.7L357.0,294.8L357.6,298.6L355.9,301.7L356.9,302.8L356.2,306.7L354.1,306.3L349.5,307.7L345.9,308.6Z" fill="#9abccb" stroke="#7a7466" stroke-width="0.4" stroke-linejoin="round" fill-rule="evenodd"/>
<path id="GHA" d="M356.2,306.7L356.9,302.8L355.9,301.7L357.6,298.6L357.0,294.8L356.9,291.3L363.3,291.0L364.2,293.9L364.9,298.3L364.7,301.7L366.1,304.1L363.3,305.4L358.7,307.6L356.2,306.7Z" fill="#9abccb" stroke="#7a7466" stroke-width="0.4" stroke-linejoin="round" fill-rule="evenodd"/>
<path id="TGO" d="M366.1,304.1L364.7,301.7L364.9,298.3L364.2,293.9L363.3,291.0L365.4,291.3L365.1,292.9L367.0,296.5L367.1,303.7L366.1,304.1Z" fill="#fff7bc" stroke="#7a7466" stroke-width="0.4" stroke-linejoin="round" fill-rule="evenodd"/>
<path id="BEN" d="M367.1,303.7L367.0,296.5L365.1,292.9L365.4,291.3L368.8,288.9L368.8,287.9L371.5,289.5L371.6,292.9L369.5,296.5L369.5,303.4L367.1,303.7Z" fill="#fff7bc" stroke="#7a7466" stroke-width="0.4" stroke-linejoin="round" fill-rule="evenodd"/>
<path id="BFA" d="M350.7,292.9L351.2,289.7L353.2,287.1L354.2,285.0L356.7,283.5L358.7,282.7L361.7,280.7L363.9,281.0L364.2,283.5L365.6,285.0L368.1,287.1L368.8,288.9L365.4,291.3L363.3,291.0L356.9,291.3L357.0,294.8L353.0,294.7L350.7,292.9Z" fill="#fee391" stroke="#7a7466" stroke-width="0.4" stroke-linejoin="round" fill-rule="evenodd"/>
<path id="NER" d="M363.9,281.0L366.5,280.1L371.3,279.8L372.9,276.2L372.9,270.0L376.2,268.9L380.3,265.5L390.2,258.7L393.7,259.7L395.3,261.0L397.1,260.0L398.3,265.2L399.3,266.8L398.6,275.9L395.0,279.0L394.1,282.4L394.4,284.3L391.9,285.8L387.8,285.3L383.9,286.6L381.1,285.3L378.9,285.8L375.6,283.7L372.7,284.8L371.5,289.5L368.8,287.9L368.8,288.9L368.1,287.1L365.6,285.0L364.2,283.5L363.9,281.0Z" fill="#fff7bc" stroke="#7a7466" stroke-width="0.4" stroke-linejoin="round" fill-rule="evenodd"/>
<path id="NGA" d="M369.5,303.4L369.5,296.5L371.6,292.9L371.5,289.5L372.7,284.8L375.6,283.7L378.9,285.8L381.1,285.3L383.9,286.6L387.8,285.3L391.9,285.8L394.4,284.3L395.6,285.8L395.8,287.4L396.7,289.7L395.8,290.5L393.6,294.9L392.7,297.6L390.4,300.7L389.3,302.5L386.5,301.7L384.5,303.3L382.9,308.1L378.7,308.8L377.1,308.8L374.8,305.4L373.4,303.6L369.5,303.4Z" fill="#fec44f" stroke="#7a7466" stroke-width="0.4" stroke-linejoin="round" fill-rule="evenodd"/>
<path id="TCD" d="M394.4,284.3L394.1,282.4L395.0,279.0L398.6,275.9L399.3,266.8L398.3,265.2L397.1,260.0L399.1,258.9L417.7,269.1L418.0,279.0L415.5,279.3L414.2,282.7L414.7,283.2L413.8,284.0L413.2,286.9L414.8,287.1L415.8,291.6L413.1,292.3L409.5,296.3L406.9,296.5L404.7,299.1L401.7,300.4L398.9,300.4L398.2,298.1L395.3,294.9L395.4,293.9L398.9,293.9L397.7,291.3L397.4,288.2L396.5,286.3L395.6,285.8L394.4,284.3Z" fill="#fff7bc" stroke="#7a7466" stroke-width="0.4" stroke-linejoin="round" fill-rule="evenodd"/>
<path id="SDN" d="M419.7,262.6L446.5,262.6L419.7,262.6L419.9,267.8L417.6,267.8L417.7,269.1L418.0,279.0L415.5,279.3L414.2,282.7L414.7,283.2L413.8,284.0L413.2,286.9L414.8,287.1L415.8,291.6L417.5,294.2L417.3,296.6L418.2,297.3L419.6,296.8L420.6,293.1L422.5,292.9L424.4,295.2L427.6,295.5L429.9,294.7L432.1,293.1L434.9,294.4L436.5,292.6L436.8,288.7L438.2,288.7L439.1,288.2L439.4,292.1L441.1,293.4L441.6,295.2L442.0,292.6L443.3,291.8L443.7,289.2L445.9,286.9L446.8,282.8L446.6,280.3L447.4,277.5L447.5,275.6L449.5,274.6L450.9,273.0L447.6,269.1L447.4,265.2L446.5,262.6Z" fill="#fee391" stroke="#7a7466" stroke-width="0.4" stroke-linejoin="round" fill-rule="evenodd"/>
<path id="SSD" d="M441.6,295.2L441.1,293.4L439.4,292.1L439.1,288.2L438.2,288.7L436.8,288.7L436.5,292.6L434.9,294.4L432.1,293.1L429.9,294.7L427.6,295.5L424.4,295.2L422.5,292.9L420.6,293.1L419.6,296.8L418.2,297.3L421.0,299.6L421.0,300.4L424.0,303.0L426.4,306.4L428.7,308.8L431.7,308.0L434.4,310.9L437.0,310.6L439.3,309.8L441.6,309.0L444.6,307.0L446.0,308.0L444.5,305.9L443.1,302.5L439.1,299.6L441.2,298.1L441.6,295.2Z" fill="#fff7bc" stroke="#7a7466" stroke-width="0.4" stroke-linejoin="round" fill-rule="evenodd"/>
<path id="ERI" d="M450.9,273.0L449.5,274.6L447.5,275.6L447.4,277.5L446.6,280.3L446.8,282.8L449.8,281.1L452.6,281.9L456.7,283.2L460.4,287.5L461.9,286.9L460.3,285.6L457.4,282.2L454.6,280.9L453.4,279.3L450.9,273.0Z" fill="#fff7bc" stroke="#7a7466" stroke-width="0.4" stroke-linejoin="round" fill-rule="evenodd"/>
<path id="DJI" d="M461.9,286.9L460.4,287.5L459.1,291.3L461.8,291.3L462.4,290.1L461.1,289.7L462.5,288.7L461.9,286.9Z" fill="#9abccb" stroke="#7a7466" stroke-width="0.4" stroke-linejoin="round" fill-rule="evenodd"/>
<path id="ETH" d="M441.6,295.2L442.0,292.6L443.3,291.8L443.7,289.2L445.9,286.9L446.8,282.8L449.8,281.1L452.6,281.9L456.7,283.2L460.4,287.5L459.1,291.3L461.8,291.3L461.5,293.4L464.3,296.5L471.3,299.1L473.6,299.1L466.7,307.2L462.3,309.0L459.8,309.7L457.3,309.0L454.3,311.1L451.1,310.6L448.3,308.5L446.0,308.0L444.5,305.9L443.1,302.5L439.1,299.6L441.2,298.1L441.6,295.2Z" fill="#fec44f" stroke="#7a7466" stroke-width="0.4" stroke-linejoin="round" fill-rule="evenodd"/>
<path id="SOM" d="M462.4,290.1L461.8,291.3L461.5,293.4L464.3,296.5L471.3,299.1L473.6,299.1L466.7,307.2L462.3,309.0L459.8,309.7L457.8,312.7L457.8,322.2L459.1,324.3L460.1,322.3L463.6,318.4L467.9,314.8L471.6,312.2L473.8,308.3L477.7,299.4L479.9,295.5L480.5,292.9L480.8,289.2L475.6,290.5L471.0,290.8L465.6,292.9L462.4,290.1Z" fill="#fff7bc" stroke="#7a7466" stroke-width="0.4" stroke-linejoin="round" fill-rule="evenodd"/>
<path id="KEN" d="M459.1,324.3L457.8,322.2L457.8,312.7L459.8,309.7L457.3,309.0L454.3,311.1L451.1,310.6L448.3,308.5L446.0,308.0L444.6,307.0L441.6,309.0L442.8,311.6L444.0,315.0L442.8,317.1L441.7,319.5L441.6,322.6L449.9,327.8L453.5,332.1L454.5,330.7L455.7,328.6L455.9,327.0L459.1,324.3Z" fill="#fee391" stroke="#7a7466" stroke-width="0.4" stroke-linejoin="round" fill-rule="evenodd"/>
<path id="UGA" d="M441.6,322.6L441.7,319.5L442.8,317.1L444.0,315.0L442.8,311.6L441.6,309.0L439.3,309.8L437.0,310.6L434.4,310.9L435.2,314.3L432.2,318.4L431.5,321.6L431.5,323.7L433.6,322.7L441.6,322.6Z" fill="#fee391" stroke="#7a7466" stroke-width="0.4" stroke-linejoin="round" fill-rule="evenodd"/>
<path id="RWA" d="M433.6,322.7L431.5,323.7L433.6,322.7L434.4,326.0L433.7,326.3L432.2,327.0L430.1,327.2L431.5,323.7Z" fill="#fff7bc" stroke="#7a7466" stroke-width="0.4" stroke-linejoin="round" fill-rule="evenodd"/>
<path id="BDI" d="M430.1,327.2L432.2,327.0L433.7,326.3L434.3,328.6L432.4,331.2L431.0,331.6L430.1,327.2Z" fill="#fff7bc" stroke="#7a7466" stroke-width="0.4" stroke-linejoin="round" fill-rule="evenodd"/>
<path id="TZA" d="M453.5,332.1L449.9,327.8L441.6,322.6L433.6,322.7L434.4,326.0L433.7,326.3L434.3,328.6L432.4,331.2L431.0,331.6L431.4,337.0L434.0,341.4L435.0,342.4L438.9,344.5L441.1,344.8L442.0,345.3L443.4,350.1L445.3,350.0L450.4,349.5L456.1,347.4L454.6,346.1L453.6,342.2L454.1,340.9L453.7,337.7L452.6,335.7L453.5,332.1Z" fill="#9abccb" stroke="#7a7466" stroke-width="0.4" stroke-linejoin="round" fill-rule="evenodd"/>
<path id="CMR" d="M382.9,308.1L384.5,303.3L386.5,301.7L389.3,302.5L390.4,300.7L392.7,297.6L393.6,294.9L395.8,290.5L396.7,289.7L395.8,287.4L395.6,285.8L396.5,286.3L397.4,288.2L397.7,291.3L398.9,293.9L395.4,293.9L395.3,294.9L398.2,298.1L398.9,300.4L396.7,303.6L396.7,307.0L398.1,309.6L400.4,312.4L400.6,314.3L399.9,315.6L396.7,314.3L393.9,314.3L389.3,314.3L385.9,313.9L385.9,312.2L385.2,309.6L383.8,309.6L382.9,308.1Z" fill="#fee391" stroke="#7a7466" stroke-width="0.4" stroke-linejoin="round" fill-rule="evenodd"/>
<path id="CAF" d="M415.8,291.6L413.1,292.3L409.5,296.3L406.9,296.5L404.7,299.1L401.7,300.4L398.9,300.4L400.6,314.3L400.4,312.4L398.1,309.6L396.7,307.0L396.7,303.6L398.9,300.4L400.6,314.3L401.3,311.6L402.7,310.3L406.1,310.9L405.9,308.8L408.2,307.0L411.4,308.8L414.9,309.6L415.8,307.7L419.5,306.7L421.5,307.0L426.4,306.4L424.0,303.0L421.0,300.4L421.0,299.6L418.2,297.3L417.3,296.6L417.5,294.2L415.8,291.6Z" fill="#fff7bc" stroke="#7a7466" stroke-width="0.4" stroke-linejoin="round" fill-rule="evenodd"/>
<path id="GNQ" d="M385.9,313.9L389.3,314.3L389.3,317.4L385.0,317.4L385.4,317.4L385.9,313.9Z" fill="#fff7bc" stroke="#7a7466" stroke-width="0.4" stroke-linejoin="round" fill-rule="evenodd"/>
<path id="GAB" d="M385.0,317.4L389.3,317.4L389.3,314.3L393.9,314.3L394.0,316.6L396.3,316.9L395.3,320.0L396.3,323.1L396.5,325.0L396.5,326.0L392.1,326.3L390.0,326.3L390.7,328.9L388.9,330.3L386.3,327.6L385.2,325.2L383.6,321.8L385.2,319.7L385.0,317.4Z" fill="#fff7bc" stroke="#7a7466" stroke-width="0.4" stroke-linejoin="round" fill-rule="evenodd"/>
<path id="COG" d="M388.9,330.3L390.7,328.9L390.0,326.3L392.1,326.3L396.5,326.0L396.5,325.0L396.3,323.1L395.3,320.0L396.3,316.9L394.0,316.6L393.9,314.3L396.7,314.3L399.9,315.6L400.6,314.3L401.3,311.6L402.7,310.3L406.1,310.9L405.0,313.7L404.6,317.4L403.6,321.8L400.6,325.7L400.2,329.1L398.3,331.2L396.4,332.8L395.8,331.7L393.5,332.0L392.3,331.5L390.9,333.0L390.7,333.0L388.9,330.3Z" fill="#fff7bc" stroke="#7a7466" stroke-width="0.4" stroke-linejoin="round" fill-rule="evenodd"/>
<path id="COD" d="M393.5,332.0L395.8,331.7L396.4,332.8L398.3,331.2L400.2,329.1L400.6,325.7L403.6,321.8L404.6,317.4L405.0,313.7L406.1,310.9L405.9,308.8L408.2,307.0L411.4,308.8L414.9,309.6L415.8,307.7L419.5,306.7L421.5,307.0L426.4,306.4L428.7,308.8L431.7,308.0L434.4,310.9L435.2,314.3L432.2,318.4L431.5,321.6L431.5,323.7L430.1,327.2L431.0,331.6L431.4,337.0L434.0,341.4L429.2,342.2L429.2,345.1L428.4,350.8L429.8,352.2L431.5,351.7L431.4,355.0L429.6,355.0L428.3,351.3L425.6,350.3L424.0,351.1L421.5,349.5L419.0,349.5L418.1,348.4L414.2,348.7L413.6,344.8L413.4,339.0L409.3,338.3L407.0,338.3L407.9,340.9L403.5,341.1L402.4,338.8L401.5,335.4L394.1,335.4L391.6,335.9L391.4,335.1L392.1,334.9L392.8,333.0L393.5,332.0Z" fill="#9abccb" stroke="#7a7466" stroke-width="0.4" stroke-linejoin="round" fill-rule="evenodd"/>
<path id="AGO" d="M391.6,335.9L394.1,335.4L401.5,335.4L402.4,338.8L403.5,341.1L407.9,340.9L407.0,338.3L409.3,338.3L413.4,339.0L413.6,344.8L414.2,348.7L418.1,348.4L418.2,353.9L413.6,353.9L413.4,362.3L416.1,365.7L411.9,366.7L405.4,365.4L395.1,365.4L392.9,364.4L390.0,365.0L391.2,357.8L391.9,355.2L394.0,352.6L394.9,347.9L393.6,343.0L394.1,342.2L391.6,335.9ZM390.9,333.0L392.3,331.5L393.5,332.0L392.8,333.0L392.1,334.9L391.4,335.1L390.9,333.0Z" fill="#9abccb" stroke="#7a7466" stroke-width="0.4" stroke-linejoin="round" fill-rule="evenodd"/>
<path id="ZMB" d="M418.1,348.4L419.0,349.5L421.5,349.5L424.0,351.1L425.6,350.3L428.3,351.3L429.6,355.0L431.4,355.0L431.5,351.7L429.8,352.2L428.4,350.8L429.2,345.1L429.2,342.2L434.0,341.4L435.0,342.4L438.9,344.5L439.7,348.2L438.8,352.6L438.1,355.5L439.2,356.5L432.2,359.1L432.6,360.8L429.2,361.8L424.6,366.8L420.7,366.4L417.9,365.7L416.1,365.7L413.4,362.3L413.6,353.9L418.2,353.9L418.1,348.4Z" fill="#fff7bc" stroke="#7a7466" stroke-width="0.4" stroke-linejoin="round" fill-rule="evenodd"/>
<path id="MWI" d="M438.9,344.5L441.1,344.8L442.0,345.3L443.4,350.1L442.3,351.6L442.4,355.2L445.2,358.9L444.9,361.8L443.6,364.6L441.7,362.0L441.6,359.1L442.1,358.1L439.2,356.5L438.1,355.5L438.8,352.6L439.7,348.2L438.9,344.5Z" fill="#fff7bc" stroke="#7a7466" stroke-width="0.4" stroke-linejoin="round" fill-rule="evenodd"/>
<path id="MOZ" d="M456.1,347.4L450.4,349.5L445.3,350.0L443.4,350.1L442.3,351.6L442.4,355.2L445.2,358.9L444.9,361.8L443.6,364.6L441.7,362.0L441.6,359.1L442.1,358.1L439.2,356.5L432.2,359.1L432.6,360.8L433.9,361.8L436.2,362.8L438.4,363.6L437.8,367.0L438.0,371.7L436.5,375.6L433.9,378.5L435.1,383.9L434.8,387.7L435.0,390.1L436.8,390.1L436.2,387.8L437.2,386.3L441.8,384.5L443.1,382.1L443.2,377.4L442.1,371.7L447.1,366.7L448.6,365.9L454.4,362.5L456.4,358.4L456.2,352.6L456.1,347.4Z" fill="#9abccb" stroke="#7a7466" stroke-width="0.4" stroke-linejoin="round" fill-rule="evenodd"/>
<path id="ZWE" d="M420.7,366.4L424.6,366.8L429.2,361.8L432.6,360.8L433.9,361.8L436.2,362.8L438.4,363.6L437.8,367.0L438.0,371.7L436.5,375.6L433.9,378.5L429.5,377.9L426.0,373.5L422.7,370.9L420.7,366.4Z" fill="#fff7bc" stroke="#7a7466" stroke-width="0.4" stroke-linejoin="round" fill-rule="evenodd"/>
<path id="BWA" d="M420.7,366.4L422.7,370.9L426.0,373.5L429.5,377.9L424.0,381.7L421.6,384.5L420.4,387.1L414.8,386.0L411.8,390.1L409.7,390.1L408.2,384.6L408.4,377.4L410.7,377.4L411.0,367.8L416.2,367.0L418.7,366.8L420.7,366.4Z" fill="#fff7bc" stroke="#7a7466" stroke-width="0.4" stroke-linejoin="round" fill-rule="evenodd"/>
<path id="NAM" d="M390.0,365.0L392.9,364.4L395.1,365.4L405.4,365.4L411.9,366.7L416.1,365.7L417.9,365.7L420.7,366.4L418.7,366.8L416.2,367.0L411.0,367.8L410.7,377.4L408.4,377.4L408.2,384.6L407.8,394.1L402.8,395.2L401.8,393.6L399.9,394.6L396.9,387.8L396.0,379.8L392.3,371.4L390.0,365.0Z" fill="#fff7bc" stroke="#7a7466" stroke-width="0.4" stroke-linejoin="round" fill-rule="evenodd"/>
<path id="ZAF" d="M399.9,394.6L401.8,393.6L402.8,395.2L407.8,394.1L408.2,384.6L409.7,390.1L411.8,390.1L414.8,386.0L420.4,387.1L421.6,384.5L424.0,381.7L429.5,377.9L433.9,378.5L435.1,383.9L434.8,387.7L432.7,387.8L432.1,389.9L433.1,391.2L435.0,390.1L436.8,390.1L435.6,393.8L434.4,395.2L431.9,398.0L429.4,401.4L424.4,406.1L419.4,408.7L414.6,408.7L411.3,409.0L406.8,410.8L403.6,409.6L403.5,408.5L403.4,405.3L402.9,403.5L401.2,397.5L399.9,394.6Z" fill="#fee391" stroke="#7a7466" stroke-width="0.4" stroke-linejoin="round" fill-rule="evenodd"/>
<path id="LSO" d="M423.1,397.2L425.5,394.9L427.1,394.6L428.5,396.7L428.2,398.0L425.8,399.9L423.9,399.1Z" fill="url(#hatch)" stroke="#b9b9b9" stroke-width="0.4" stroke-linejoin="round" fill-rule="evenodd"/>
<path id="SWZ" d="M435.0,390.1L433.1,391.2L432.1,389.9L432.7,387.8L434.8,387.7L435.0,390.1Z" fill="#fff7bc" stroke="#7a7466" stroke-width="0.4" stroke-linejoin="round" fill-rule="evenodd"/>
<path id="MDG" d="M476.2,351.3L477.9,357.8L478.5,360.2L476.8,361.8L475.6,365.7L473.1,372.2L470.0,382.6L468.9,385.2L465.2,386.8L462.0,385.2L461.6,381.3L461.0,377.4L461.0,376.6L464.1,371.7L463.2,368.3L463.4,364.4L465.6,362.3L468.9,361.0L471.0,358.6L472.8,355.5L475.2,352.4Z" fill="#fff7bc" stroke="#7a7466" stroke-width="0.4" stroke-linejoin="round" fill-rule="evenodd"/>
<path id="COM" d="M462.3,349.7L463.0,349.7L462.9,351.1L462.2,351.1ZM464.5,351.6L465.2,351.6L465.2,352.4L464.5,352.4Z" fill="#9abccb" stroke="#7a7466" stroke-width="0.4" stroke-linejoin="round" fill-rule="evenodd"/>
<path id="MUS" d="M493.0,372.2L494.2,372.2L494.0,373.5L492.9,373.5Z" fill="#9abccb" stroke="#7a7466" stroke-width="0.4" stroke-linejoin="round" fill-rule="evenodd"/>
<path id="CPV" d="M309.0,280.3L309.9,280.3L309.9,281.1L309.0,281.1ZM307.5,275.9L308.2,275.9L308.2,276.7L307.5,276.7Z" fill="#fff7bc" stroke="#7a7466" stroke-width="0.4" stroke-linejoin="round" fill-rule="evenodd"/>
<path id="AUS" d="M690.1,347.9L691.6,353.4L691.1,357.3L694.9,359.1L694.4,363.1L694.7,368.3L695.2,369.3L699.4,372.5L700.4,377.9L702.5,381.3L706.0,386.0L706.1,387.8L704.6,394.6L700.8,400.9L698.0,404.5L693.7,408.2L688.3,413.9L685.8,417.8L680.9,418.9L675.7,422.0L674.2,418.9L669.9,421.2L665.6,419.4L664.3,417.8L665.2,413.9L663.5,412.9L664.5,410.8L664.2,409.5L665.4,405.3L662.2,408.7L659.1,410.8L657.5,405.3L656.5,404.0L652.2,402.2L646.9,402.7L640.0,404.3L634.9,406.1L632.9,408.5L629.4,408.5L625.1,408.7L619.7,411.3L615.5,411.1L614.1,409.5L616.2,406.9L617.7,403.2L617.8,398.3L617.6,392.5L617.0,389.7L616.5,388.1L617.9,383.9L619.5,379.0L621.0,376.9L624.1,376.1L627.5,373.8L632.7,372.2L637.4,371.1L641.2,367.0L643.2,363.1L644.4,365.1L646.9,362.3L648.4,360.2L651.1,357.1L653.5,356.3L655.9,358.9L655.3,359.9L659.1,358.9L659.1,355.2L661.2,353.7L662.7,352.4L666.9,351.6L665.3,349.5L667.2,349.7L672.9,351.8L676.6,351.3L676.7,352.1L674.3,354.7L672.6,358.9L675.6,361.2L679.6,364.1L680.1,365.4L683.4,365.7L684.6,361.8L686.9,357.8L687.0,353.9L688.3,350.8ZM669.6,426.1L672.8,427.2L676.9,426.7L675.0,429.5L672.1,432.6L669.1,433.6L667.8,431.6L668.2,430.0ZM659.3,413.2L661.6,412.9L662.3,413.7L658.9,413.9ZM662.1,349.7L664.4,349.5L663.4,350.8L662.0,350.8Z" fill="#fec44f" stroke="#7a7466" stroke-width="0.4" stroke-linejoin="round" fill-rule="evenodd"/>
<path id="NZL" d="M739.5,409.8L741.6,412.1L740.3,416.0L742.8,415.8L741.3,418.1L743.1,418.9L746.7,418.4L742.9,422.0L740.4,422.8L738.7,424.9L732.6,428.5L732.1,427.7L734.9,425.1L734.4,424.1L733.8,422.5L736.4,421.2L738.0,419.1L739.4,416.0L738.9,411.9ZM729.2,425.6L731.0,426.7L730.3,428.7L724.9,432.1L723.5,434.2L718.5,435.7L714.2,439.5L710.0,441.3L707.8,441.3L705.2,439.8L708.3,437.2L712.0,435.2L718.5,432.3L722.4,430.5L726.0,427.7L727.2,426.7ZM705.5,441.8L706.7,442.1L705.7,442.9L704.7,442.9Z" fill="#fee391" stroke="#7a7466" stroke-width="0.4" stroke-linejoin="round" fill-rule="evenodd"/>
<path id="SLB" d="M723.2,337.5L725.4,339.0L724.9,339.8L723.2,338.3ZM729.7,344.3L732.3,345.6L731.8,346.1L729.8,345.6ZM727.8,339.8L730.4,341.9L729.9,342.2L727.5,340.6ZM732.3,341.7L733.6,344.3L733.1,345.1L732.1,343.0ZM733.3,346.6L735.5,347.7L734.7,348.2L733.2,347.4Z" fill="#9abccb" stroke="#7a7466" stroke-width="0.4" stroke-linejoin="round" fill-rule="evenodd"/>
<path id="VUT" d="M743.6,358.4L744.5,360.7L743.6,361.0L743.4,359.7ZM744.3,361.8L745.4,363.1L744.4,363.3ZM745.7,365.7L746.5,366.4L745.6,366.4Z" fill="#9abccb" stroke="#7a7466" stroke-width="0.4" stroke-linejoin="round" fill-rule="evenodd"/>
<path id="NCL" d="M734.5,372.7L739.1,376.9L739.8,378.5L735.9,376.1L734.2,373.8Z" fill="#9abccb" stroke="#7a7466" stroke-width="0.4" stroke-linejoin="round" fill-rule="evenodd"/>
<path id="FJI" d="M766.4,365.7L769.3,366.2L767.6,367.5L766.1,367.0ZM770.1,363.6L773.1,362.5L772.1,363.8L770.2,364.4Z" fill="#9abccb" stroke="#7a7466" stroke-width="0.4" stroke-linejoin="round" fill-rule="evenodd"/>
</g>
<g id="legend">
<rect x="103.5" y="502" width="89.0" height="10.5" fill="#9abccb" stroke="#8a8a8a" stroke-width="0.4"/>
<rect x="192.5" y="502" width="88.7" height="10.5" fill="#fff7bc" stroke="#8a8a8a" stroke-width="0.4"/>
<rect x="281.2" y="502" width="88.7" height="10.5" fill="#fee391" stroke="#8a8a8a" stroke-width="0.4"/>
<rect x="369.9" y="502" width="88.7" height="10.5" fill="#fec44f" stroke="#8a8a8a" stroke-width="0.4"/>
<rect x="458.6" y="502" width="88.7" height="10.5" fill="#fe9929" stroke="#8a8a8a" stroke-width="0.4"/>
<rect x="547.3" y="502" width="88.7" height="10.5" fill="#ec7014" stroke="#8a8a8a" stroke-width="0.4"/>
<rect x="636.0" y="502" width="88.7" height="10.5" fill="#cc4c02" stroke="#8a8a8a" stroke-width="0.4"/>
<rect x="724.7" y="502" width="88.7" height="10.5" fill="#8c2d04" stroke="#8a8a8a" stroke-width="0.4"/>
<line x1="281.2" y1="498.5" x2="281.2" y2="512.5" stroke="#8a8a8a" stroke-width="0.6"/>
<text x="281.2" y="494.1" text-anchor="middle" class="lg">0.1%</text>
<line x1="369.9" y1="498.5" x2="369.9" y2="512.5" stroke="#8a8a8a" stroke-width="0.6"/>
<text x="369.9" y="494.1" text-anchor="middle" class="lg">0.5%</text>
<line x1="458.6" y1="498.5" x2="458.6" y2="512.5" stroke="#8a8a8a" stroke-width="0.6"/>
<text x="458.6" y="494.1" text-anchor="middle" class="lg">1%</text>
<line x1="547.3" y1="498.5" x2="547.3" y2="512.5" stroke="#8a8a8a" stroke-width="0.6"/>
<text x="547.3" y="494.1" text-anchor="middle" class="lg">5%</text>
<line x1="636.0" y1="498.5" x2="636.0" y2="512.5" stroke="#8a8a8a" stroke-width="0.6"/>
<text x="636.0" y="494.1" text-anchor="middle" class="lg">10%</text>
<line x1="724.7" y1="498.5" x2="724.7" y2="512.5" stroke="#8a8a8a" stroke-width="0.6"/>
<text x="724.7" y="494.1" text-anchor="middle" class="lg">25%</text>
<line x1="813.4" y1="498.5" x2="813.4" y2="512.5" stroke="#8a8a8a" stroke-width="0.6"/>
<text x="827.5" y="494.1" text-anchor="end" class="lg">50%</text>
<line x1="148" y1="498.5" x2="148" y2="502.5" stroke="#b0b0b0" stroke-width="0.6"/>
<text x="148" y="494.1" text-anchor="middle" class="lg" textLength="94" lengthAdjust="spacingAndGlyphs">Nitrogen mining</text>
<rect x="36.5" y="502" width="47.5" height="10.5" fill="url(#hatch2)" stroke="#a9a9a9" stroke-width="0.7"/>
<line x1="60.5" y1="498.5" x2="60.5" y2="502" stroke="#b0b0b0" stroke-width="0.6"/>
<text x="60.5" y="494.1" text-anchor="middle" class="lg" textLength="46" lengthAdjust="spacingAndGlyphs">No data</text>
</g>
<text x="16.5" y="545.3" class="ft"><tspan font-weight="bold" textLength="71.5" lengthAdjust="spacingAndGlyphs">Data source:</tspan><tspan> </tspan></text>
<text x="92.3" y="545.3" class="ft" textLength="710.5" lengthAdjust="spacingAndGlyphs">West, Gerber, Engstrom, Mueller, Brauman, Carlson, Cassidy, Johnston, MacDonald, Ray &amp; Siebert (2014). Leverage points for</text>
<text x="16.5" y="561.2" class="ft" textLength="345.5" lengthAdjust="spacingAndGlyphs">improving global food security and the environment. Science.</text>
<text x="16.5" y="581.3" class="ft" textLength="222" lengthAdjust="spacingAndGlyphs">OurWorldinData.org/fertilizers | CC BY</text>
</svg>
</body></html>
